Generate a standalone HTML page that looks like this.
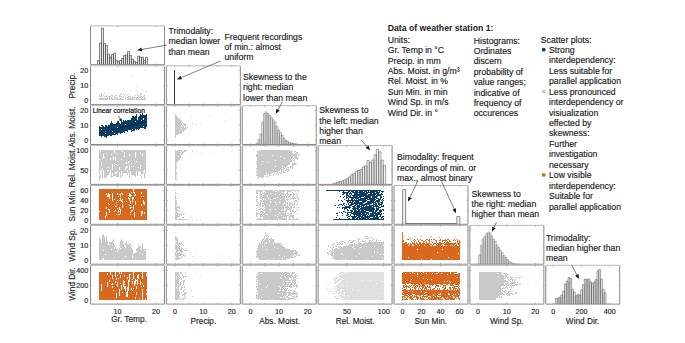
<!DOCTYPE html>
<html><head><meta charset="utf-8"><style>
html,body{margin:0;padding:0;background:#fff;width:685px;height:343px;overflow:hidden;font-family:"Liberation Sans",sans-serif}
</style></head><body>
<svg width="685" height="343" viewBox="0 0 685 343" style="position:absolute;left:0;top:0" font-family="Liberation Sans, sans-serif">
<rect width="685" height="343" fill="#fff"/>
<g>
<path d="M99 95h1v2h-1zM99 98h1v2h-1zM100 94h1v1h-1zM100 96h1v1h-1zM100 98h1v2h-1zM101 93h1v3h-1zM101 97h1v3h-1zM102 96h1v1h-1zM102 98h1v2h-1zM103 95h1v1h-1zM103 98h1v2h-1zM104 93h1v1h-1zM104 96h1v1h-1zM104 98h1v2h-1zM105 96h1v1h-1zM105 98h1v2h-1zM106 95h1v2h-1zM106 98h1v2h-1zM107 93h1v1h-1zM107 97h1v3h-1zM108 96h1v1h-1zM109 96h1v4h-1zM110 96h1v1h-1zM110 99h1v1h-1zM111 95h1v1h-1zM111 97h1v3h-1zM112 95h1v2h-1zM112 98h1v2h-1zM113 99h1v1h-1zM114 96h1v4h-1zM115 95h1v1h-1zM115 97h1v1h-1zM115 99h1v1h-1zM116 95h1v1h-1zM116 97h1v3h-1zM117 98h1v2h-1zM118 99h1v1h-1zM119 95h1v2h-1zM119 98h1v2h-1zM120 94h1v1h-1zM120 96h1v1h-1zM120 98h1v2h-1zM121 94h1v1h-1zM121 96h1v1h-1zM121 98h1v2h-1zM122 97h1v1h-1zM122 99h1v1h-1zM123 93h1v1h-1zM123 96h1v1h-1zM123 99h1v1h-1zM124 95h1v1h-1zM125 94h1v1h-1zM125 97h1v3h-1zM127 95h1v1h-1zM127 97h1v1h-1zM127 99h1v1h-1zM128 96h1v4h-1zM129 94h1v1h-1zM129 96h1v1h-1zM129 98h1v2h-1zM130 96h1v4h-1zM131 98h1v2h-1zM132 96h1v4h-1zM133 97h1v1h-1zM133 99h1v1h-1zM134 97h1v3h-1zM135 95h1v1h-1zM135 97h1v1h-1zM136 97h1v3h-1zM137 93h1v1h-1zM137 95h1v1h-1zM137 97h1v1h-1zM137 99h1v1h-1zM138 96h1v1h-1zM138 98h1v2h-1zM139 95h1v1h-1zM139 97h1v1h-1zM139 99h1v1h-1zM140 93h1v2h-1zM140 96h1v2h-1zM140 99h1v1h-1zM141 96h1v1h-1zM141 98h1v2h-1zM142 97h1v3h-1zM143 96h1v1h-1zM143 99h1v1h-1zM144 95h1v5h-1zM145 98h1v2h-1z" fill="#cbcbcb"/>
<path d="M144.95 69.95h0.9v0.9h-0.9zM132.75 75.35h0.9v0.9h-0.9zM135.75 86.35h0.9v0.9h-0.9zM135.75 90.55h0.9v0.9h-0.9zM122.85 88.55h0.9v0.9h-0.9zM144.95 91.05h0.9v0.9h-0.9zM141.15 93.85h0.9v0.9h-0.9z" fill="#bdbdbd"/>
<path d="M99 126h1v10h-1zM100 127h1v9h-1zM101 125h1v1h-1zM101 127h1v2h-1zM101 130h1v7h-1zM102 125h1v11h-1zM103 126h1v10h-1zM104 127h1v10h-1zM105 125h1v6h-1zM105 132h1v1h-1zM105 134h1v3h-1zM106 125h1v13h-1zM107 126h1v10h-1zM108 125h1v11h-1zM109 125h1v5h-1zM109 131h1v4h-1zM110 123h1v13h-1zM111 121h1v15h-1zM112 123h1v8h-1zM112 132h1v3h-1zM113 124h1v11h-1zM114 124h1v9h-1zM114 134h1v1h-1zM115 124h1v11h-1zM116 123h1v11h-1zM117 121h1v6h-1zM117 128h1v7h-1zM118 121h1v12h-1zM119 123h1v10h-1zM120 124h1v10h-1zM121 122h1v11h-1zM122 122h1v11h-1zM123 120h1v12h-1zM124 121h1v12h-1zM125 120h1v4h-1zM125 125h1v6h-1zM126 121h1v10h-1zM127 120h1v12h-1zM128 120h1v10h-1zM129 120h1v10h-1zM130 120h1v10h-1zM131 118h1v14h-1zM132 116h1v13h-1zM132 130h1v1h-1zM133 116h1v15h-1zM134 117h1v14h-1zM135 116h1v5h-1zM135 122h1v7h-1zM136 114h1v16h-1zM137 120h1v9h-1zM138 117h1v13h-1zM139 116h1v13h-1zM140 114h1v14h-1zM141 115h1v5h-1zM141 121h1v7h-1zM142 113h1v15h-1zM143 115h1v3h-1zM143 120h1v6h-1zM143 127h1v1h-1zM144 115h1v14h-1zM145 115h1v14h-1zM146 114h1v13h-1z" fill="#0c3d66"/>
<path d="M175 114h1v1h-1zM175 115h2v1h-2zM175 116h2v1h-2zM175 117h3v1h-3zM175 118h4v1h-4zM175 119h5v1h-5zM175 120h6v1h-6zM175 121h7v1h-7zM175 122h6v1h-6zM182 122h1v1h-1zM175 123h7v1h-7zM183 123h2v1h-2zM175 124h7v1h-7zM183 124h3v1h-3zM175 125h6v1h-6zM182 125h1v1h-1zM184 125h2v1h-2zM175 126h6v1h-6zM182 126h2v1h-2zM185 126h1v1h-1zM175 127h9v1h-9zM185 127h1v1h-1zM187 127h1v1h-1zM175 128h6v1h-6zM182 128h5v1h-5zM175 129h10v1h-10zM175 130h10v1h-10zM175 131h7v1h-7zM183 131h1v1h-1zM175 132h7v1h-7zM175 133h6v1h-6zM175 134h3v1h-3zM175 135h1v1h-1zM175 136h1v1h-1zM175 137h1v1h-1z" fill="#c9c9c9"/>
<path d="M190.55 116.55h0.9v0.9h-0.9zM191.95 123.05h0.9v0.9h-0.9zM195.85 123.85h0.9v0.9h-0.9zM199.65 123.25h0.9v0.9h-0.9zM180.25 117.75h0.9v0.9h-0.9zM209.55 115.55h0.9v0.9h-0.9zM224.55 120.55h0.9v0.9h-0.9zM231.55 117.55h0.9v0.9h-0.9z" fill="#c4c4c4"/>
<path d="M99 150h1v9h-1zM99 160h1v15h-1zM99 176h1v2h-1zM100 152h1v19h-1zM100 173h1v1h-1zM100 175h1v3h-1zM101 150h1v12h-1zM101 166h1v3h-1zM102 150h1v8h-1zM102 159h1v9h-1zM102 169h1v10h-1zM103 150h1v4h-1zM103 158h1v12h-1zM104 150h1v7h-1zM104 158h1v20h-1zM105 150h1v28h-1zM106 150h1v3h-1zM106 154h1v23h-1zM107 150h1v20h-1zM107 172h1v3h-1zM108 150h1v17h-1zM108 168h1v2h-1zM108 171h1v4h-1zM109 150h1v23h-1zM110 150h1v8h-1zM110 160h1v10h-1zM111 150h1v4h-1zM111 155h1v23h-1zM112 150h1v14h-1zM112 170h1v3h-1zM112 176h1v1h-1zM113 150h1v7h-1zM113 160h1v16h-1zM114 153h1v10h-1zM114 164h1v1h-1zM114 166h1v10h-1zM115 150h1v7h-1zM115 161h1v11h-1zM115 174h1v2h-1zM116 150h1v3h-1zM116 154h1v10h-1zM116 165h1v7h-1zM116 174h1v3h-1zM117 150h1v11h-1zM117 162h1v3h-1zM117 166h1v5h-1zM117 172h1v5h-1zM118 150h1v27h-1zM119 150h1v17h-1zM119 170h1v2h-1zM120 150h1v28h-1zM121 151h1v8h-1zM121 160h1v11h-1zM122 150h1v1h-1zM122 152h1v25h-1zM123 150h1v23h-1zM124 150h1v2h-1zM124 154h1v1h-1zM124 157h1v16h-1zM125 150h1v17h-1zM125 170h1v3h-1zM126 150h1v12h-1zM126 164h1v2h-1zM126 169h1v4h-1zM127 150h1v16h-1zM127 168h1v2h-1zM127 172h1v3h-1zM128 150h1v11h-1zM128 163h1v10h-1zM129 150h1v4h-1zM129 156h1v5h-1zM129 162h1v3h-1zM129 170h1v3h-1zM129 174h1v4h-1zM130 150h1v21h-1zM131 150h1v13h-1zM131 164h1v2h-1zM131 167h1v8h-1zM131 177h1v1h-1zM132 150h1v26h-1zM133 150h1v16h-1zM133 167h1v8h-1zM134 150h1v26h-1zM135 150h1v2h-1zM135 158h1v19h-1zM136 150h1v11h-1zM136 162h1v9h-1zM137 150h1v26h-1zM138 150h1v17h-1zM138 168h1v4h-1zM139 150h1v21h-1zM140 150h1v2h-1zM140 154h1v11h-1zM140 169h1v3h-1zM140 175h1v1h-1zM141 150h1v25h-1zM141 176h1v2h-1zM142 150h1v4h-1zM142 156h1v18h-1zM143 150h1v21h-1zM143 172h1v1h-1zM144 150h1v20h-1zM144 173h1v5h-1zM145 150h1v13h-1zM145 164h1v10h-1zM145 177h1v1h-1z" fill="#c9c9c9"/>
<path d="M99.4 176V180.4" stroke="#c9c9c9" stroke-width="0.9"/>
<path d="M175 150h1v1h-1zM177 150h6v1h-6zM184 150h3v1h-3zM175 151h5v1h-5zM181 151h1v1h-1zM183 151h3v1h-3zM175 152h6v1h-6zM182 152h2v1h-2zM175 153h5v1h-5zM181 153h2v1h-2zM175 154h7v1h-7zM175 155h6v1h-6zM175 156h3v1h-3zM179 156h2v1h-2zM175 157h6v1h-6zM175 158h5v1h-5zM175 159h5v1h-5zM175 160h4v1h-4zM175 161h3v1h-3zM175 162h2v1h-2zM175 163h1v1h-1zM175 164h2v1h-2zM175 165h1v1h-1zM175 166h2v1h-2zM175 167h2v1h-2zM175 168h2v1h-2zM175 169h1v1h-1zM175 170h1v1h-1zM175 171h1v1h-1zM175 172h2v1h-2zM175 173h2v1h-2zM175 174h1v1h-1zM175 175h2v1h-2zM175 176h1v1h-1zM175 177h2v1h-2zM175 178h1v1h-1zM175 179h2v1h-2z" fill="#c9c9c9"/>
<path d="M191.95 151.05h0.9v0.9h-0.9zM195.85 151.65h0.9v0.9h-0.9zM199.65 152.75h0.9v0.9h-0.9zM190.25 157.15h0.9v0.9h-0.9zM214.55 151.55h0.9v0.9h-0.9zM231.55 150.55h0.9v0.9h-0.9z" fill="#c8c8c8"/>
<path d="M259 150h1v1h-1zM261 150h29v1h-29zM257 151h36v1h-36zM294 151h2v1h-2zM257 152h35v1h-35zM294 152h1v1h-1zM296 152h2v1h-2zM258 153h35v1h-35zM295 153h3v1h-3zM256 154h41v1h-41zM298 154h2v1h-2zM256 155h5v1h-5zM262 155h10v1h-10zM273 155h24v1h-24zM298 155h1v1h-1zM256 156h24v1h-24zM281 156h12v1h-12zM294 156h3v1h-3zM257 157h33v1h-33zM291 157h2v1h-2zM294 157h4v1h-4zM257 158h27v1h-27zM285 158h7v1h-7zM293 158h1v1h-1zM295 158h3v1h-3zM257 159h34v1h-34zM292 159h1v1h-1zM294 159h1v1h-1zM297 159h1v1h-1zM257 160h18v1h-18zM276 160h16v1h-16zM293 160h2v1h-2zM256 161h6v1h-6zM263 161h30v1h-30zM257 162h11v1h-11zM269 162h21v1h-21zM294 162h1v1h-1zM256 163h34v1h-34zM292 163h5v1h-5zM257 164h4v1h-4zM262 164h28v1h-28zM292 164h4v1h-4zM257 165h31v1h-31zM292 165h2v1h-2zM257 166h18v1h-18zM276 166h6v1h-6zM283 166h4v1h-4zM290 166h3v1h-3zM257 167h27v1h-27zM285 167h1v1h-1zM287 167h2v1h-2zM290 167h1v1h-1zM292 167h1v1h-1zM256 168h26v1h-26zM283 168h2v1h-2zM286 168h1v1h-1zM288 168h1v1h-1zM290 168h1v1h-1zM292 168h1v1h-1zM257 169h16v1h-16zM274 169h9v1h-9zM286 169h3v1h-3zM256 170h24v1h-24zM281 170h1v1h-1zM283 170h1v1h-1zM285 170h2v1h-2zM288 170h2v1h-2zM257 171h21v1h-21zM281 171h1v1h-1zM283 171h1v1h-1zM287 171h1v1h-1zM256 172h18v1h-18zM277 172h1v1h-1zM279 172h1v1h-1zM281 172h1v1h-1zM283 172h3v1h-3zM256 173h1v1h-1zM258 173h8v1h-8zM267 173h4v1h-4zM274 173h1v1h-1zM278 173h1v1h-1zM280 173h2v1h-2zM257 174h11v1h-11zM269 174h1v1h-1zM273 174h1v1h-1zM276 174h1v1h-1zM278 174h1v1h-1zM256 175h8v1h-8zM269 175h2v1h-2zM273 175h1v1h-1zM258 176h6v1h-6zM265 176h1v1h-1zM267 176h2v1h-2zM257 177h2v1h-2zM261 177h3v1h-3zM258 178h1v1h-1z" fill="#c9c9c9"/>
<path d="M99 189h1v22h-1zM99 212h1v8h-1zM100 189h1v31h-1zM101 189h1v31h-1zM102 189h1v31h-1zM103 189h1v31h-1zM104 189h1v31h-1zM105 189h1v27h-1zM105 218h1v2h-1zM106 189h1v4h-1zM106 195h1v12h-1zM106 209h1v3h-1zM106 216h1v4h-1zM107 189h1v6h-1zM107 197h1v23h-1zM108 189h1v4h-1zM108 197h1v6h-1zM108 204h1v5h-1zM108 210h1v10h-1zM109 189h1v5h-1zM109 199h1v5h-1zM109 205h1v4h-1zM109 213h1v7h-1zM110 189h1v31h-1zM111 189h1v31h-1zM112 189h1v4h-1zM112 201h1v19h-1zM113 189h1v31h-1zM114 189h1v10h-1zM114 200h1v11h-1zM114 212h1v8h-1zM115 189h1v17h-1zM115 207h1v3h-1zM115 211h1v9h-1zM116 189h1v13h-1zM116 203h1v1h-1zM116 205h1v1h-1zM116 207h1v7h-1zM116 215h1v5h-1zM117 189h1v4h-1zM117 195h1v5h-1zM117 201h1v7h-1zM117 209h1v11h-1zM118 189h1v7h-1zM118 197h1v13h-1zM118 213h1v1h-1zM118 215h1v5h-1zM119 189h1v5h-1zM119 195h1v5h-1zM119 201h1v6h-1zM119 210h1v4h-1zM119 215h1v5h-1zM120 189h1v5h-1zM120 197h1v1h-1zM120 201h1v8h-1zM120 214h1v6h-1zM121 189h1v4h-1zM121 194h1v6h-1zM121 202h1v18h-1zM122 189h1v4h-1zM122 195h1v4h-1zM122 200h1v1h-1zM122 203h1v1h-1zM122 208h1v12h-1zM123 189h1v31h-1zM124 189h1v31h-1zM125 189h1v31h-1zM126 189h1v12h-1zM126 202h1v18h-1zM127 189h1v31h-1zM128 189h1v8h-1zM128 199h1v21h-1zM129 189h1v4h-1zM129 197h1v1h-1zM129 201h1v4h-1zM129 206h1v14h-1zM130 189h1v5h-1zM130 197h1v4h-1zM130 204h1v1h-1zM130 206h1v1h-1zM130 209h1v3h-1zM130 213h1v1h-1zM130 215h1v5h-1zM131 189h1v3h-1zM131 193h1v2h-1zM131 196h1v11h-1zM131 208h1v2h-1zM131 212h1v8h-1zM132 189h1v8h-1zM132 202h1v8h-1zM132 211h1v9h-1zM133 193h1v4h-1zM133 199h1v6h-1zM133 210h1v10h-1zM134 189h1v3h-1zM134 194h1v1h-1zM134 196h1v16h-1zM134 217h1v3h-1zM135 189h1v5h-1zM135 196h1v5h-1zM135 205h1v15h-1zM136 189h1v31h-1zM137 189h1v31h-1zM138 189h1v31h-1zM139 189h1v31h-1zM140 189h1v31h-1zM141 189h1v3h-1zM141 194h1v2h-1zM141 197h1v7h-1zM141 206h1v5h-1zM141 216h1v4h-1zM142 189h1v22h-1zM142 214h1v6h-1zM143 189h1v7h-1zM143 197h1v3h-1zM143 204h1v16h-1zM144 189h1v13h-1zM144 205h1v7h-1zM144 214h1v6h-1zM145 189h1v31h-1zM146 189h1v31h-1z" fill="#d8691f"/>
<path d="M175 190h1v1h-1zM175 192h1v1h-1zM175 193h2v1h-2zM175 195h1v1h-1zM175 196h1v1h-1zM175 197h1v1h-1zM175 198h2v1h-2zM175 199h1v1h-1zM175 200h2v1h-2zM175 201h2v1h-2zM175 202h2v1h-2zM175 203h2v1h-2zM175 204h2v1h-2zM175 205h1v1h-1zM177 205h1v1h-1zM175 206h2v1h-2zM178 206h2v1h-2zM175 207h5v1h-5zM175 208h2v1h-2zM179 208h1v1h-1zM175 209h3v1h-3zM175 210h3v1h-3zM179 210h1v1h-1zM176 211h2v1h-2zM179 211h1v1h-1zM175 212h2v1h-2zM175 213h3v1h-3zM179 213h1v1h-1zM181 213h1v1h-1zM175 214h1v1h-1zM177 214h3v1h-3zM181 214h1v1h-1zM183 214h1v1h-1zM175 215h3v1h-3zM179 215h1v1h-1zM181 215h1v1h-1zM175 216h5v1h-5zM175 217h3v1h-3zM182 217h2v1h-2zM175 218h2v1h-2zM179 218h1v1h-1zM175 219h13v1h-13z" fill="#c9c9c9"/>
<path d="M179.75 202.75h0.9v0.9h-0.9zM181.95 211.55h0.9v0.9h-0.9zM190.25 216.55h0.9v0.9h-0.9zM191.95 219.35h0.9v0.9h-0.9zM195.85 219.35h0.9v0.9h-0.9zM199.65 219.35h0.9v0.9h-0.9zM184.55 213.55h0.9v0.9h-0.9zM177.55 195.55h0.9v0.9h-0.9z" fill="#c8c8c8"/>
<path d="M256 190h6v1h-6zM263 190h10v1h-10zM274 190h4v1h-4zM279 190h20v1h-20zM256 191h1v1h-1zM258 191h5v1h-5zM265 191h10v1h-10zM277 191h8v1h-8zM287 191h4v1h-4zM295 191h1v1h-1zM298 191h1v1h-1zM256 192h2v1h-2zM260 192h1v1h-1zM262 192h1v1h-1zM264 192h1v1h-1zM266 192h16v1h-16zM283 192h1v1h-1zM287 192h1v1h-1zM292 192h1v1h-1zM256 193h2v1h-2zM260 193h1v1h-1zM262 193h8v1h-8zM271 193h13v1h-13zM286 193h2v1h-2zM293 193h2v1h-2zM296 193h1v1h-1zM259 194h3v1h-3zM264 194h11v1h-11zM276 194h3v1h-3zM280 194h6v1h-6zM287 194h2v1h-2zM290 194h2v1h-2zM293 194h2v1h-2zM297 194h1v1h-1zM257 195h1v1h-1zM260 195h2v1h-2zM263 195h4v1h-4zM268 195h14v1h-14zM283 195h1v1h-1zM285 195h1v1h-1zM287 195h1v1h-1zM289 195h2v1h-2zM293 195h1v1h-1zM297 195h1v1h-1zM256 196h1v1h-1zM260 196h2v1h-2zM263 196h4v1h-4zM268 196h12v1h-12zM281 196h4v1h-4zM286 196h1v1h-1zM288 196h2v1h-2zM292 196h2v1h-2zM296 196h1v1h-1zM256 197h2v1h-2zM259 197h2v1h-2zM262 197h15v1h-15zM278 197h7v1h-7zM286 197h1v1h-1zM288 197h1v1h-1zM290 197h1v1h-1zM292 197h1v1h-1zM294 197h1v1h-1zM297 197h1v1h-1zM260 198h3v1h-3zM264 198h4v1h-4zM269 198h5v1h-5zM276 198h9v1h-9zM287 198h1v1h-1zM289 198h1v1h-1zM291 198h5v1h-5zM297 198h2v1h-2zM256 199h2v1h-2zM262 199h1v1h-1zM264 199h1v1h-1zM266 199h4v1h-4zM271 199h9v1h-9zM281 199h4v1h-4zM286 199h3v1h-3zM290 199h1v1h-1zM293 199h1v1h-1zM298 199h1v1h-1zM256 200h1v1h-1zM260 200h2v1h-2zM263 200h23v1h-23zM287 200h1v1h-1zM295 200h2v1h-2zM256 201h2v1h-2zM260 201h10v1h-10zM271 201h15v1h-15zM288 201h1v1h-1zM291 201h1v1h-1zM294 201h3v1h-3zM298 201h1v1h-1zM257 202h2v1h-2zM260 202h1v1h-1zM263 202h7v1h-7zM271 202h4v1h-4zM276 202h3v1h-3zM280 202h4v1h-4zM285 202h3v1h-3zM289 202h1v1h-1zM294 202h1v1h-1zM297 202h1v1h-1zM258 203h1v1h-1zM260 203h1v1h-1zM262 203h22v1h-22zM285 203h1v1h-1zM287 203h1v1h-1zM289 203h3v1h-3zM294 203h1v1h-1zM257 204h1v1h-1zM259 204h2v1h-2zM262 204h1v1h-1zM264 204h12v1h-12zM277 204h6v1h-6zM284 204h2v1h-2zM287 204h1v1h-1zM289 204h2v1h-2zM292 204h3v1h-3zM296 204h2v1h-2zM256 205h3v1h-3zM260 205h1v1h-1zM262 205h7v1h-7zM270 205h16v1h-16zM287 205h1v1h-1zM289 205h3v1h-3zM260 206h1v1h-1zM262 206h2v1h-2zM265 206h19v1h-19zM285 206h3v1h-3zM291 206h1v1h-1zM294 206h1v1h-1zM258 207h1v1h-1zM264 207h20v1h-20zM285 207h7v1h-7zM293 207h2v1h-2zM296 207h1v1h-1zM298 207h1v1h-1zM256 208h1v1h-1zM260 208h2v1h-2zM263 208h1v1h-1zM265 208h19v1h-19zM286 208h2v1h-2zM289 208h3v1h-3zM258 209h3v1h-3zM262 209h1v1h-1zM264 209h5v1h-5zM271 209h4v1h-4zM276 209h6v1h-6zM283 209h1v1h-1zM286 209h5v1h-5zM293 209h1v1h-1zM296 209h1v1h-1zM298 209h1v1h-1zM256 210h2v1h-2zM263 210h18v1h-18zM282 210h2v1h-2zM285 210h2v1h-2zM290 210h1v1h-1zM292 210h2v1h-2zM260 211h3v1h-3zM265 211h5v1h-5zM271 211h16v1h-16zM290 211h1v1h-1zM292 211h2v1h-2zM295 211h1v1h-1zM256 212h2v1h-2zM260 212h1v1h-1zM262 212h2v1h-2zM265 212h14v1h-14zM280 212h4v1h-4zM285 212h1v1h-1zM291 212h1v1h-1zM294 212h1v1h-1zM256 213h2v1h-2zM259 213h1v1h-1zM262 213h1v1h-1zM264 213h22v1h-22zM287 213h5v1h-5zM297 213h1v1h-1zM256 214h2v1h-2zM259 214h3v1h-3zM263 214h3v1h-3zM268 214h10v1h-10zM279 214h7v1h-7zM289 214h1v1h-1zM291 214h1v1h-1zM256 215h1v1h-1zM260 215h1v1h-1zM262 215h1v1h-1zM264 215h11v1h-11zM276 215h5v1h-5zM282 215h7v1h-7zM290 215h4v1h-4zM256 216h1v1h-1zM260 216h17v1h-17zM278 216h9v1h-9zM289 216h5v1h-5zM260 217h1v1h-1zM263 217h20v1h-20zM284 217h1v1h-1zM286 217h1v1h-1zM288 217h1v1h-1zM290 217h1v1h-1zM292 217h2v1h-2zM298 217h1v1h-1zM257 218h1v1h-1zM259 218h2v1h-2zM263 218h24v1h-24zM289 218h1v1h-1zM293 218h1v1h-1zM296 218h1v1h-1zM256 219h22v1h-22zM279 219h8v1h-8zM288 219h11v1h-11z" fill="#c9c9c9"/>
<path d="M326 190h55v1h-55zM339 191h1v1h-1zM343 191h1v1h-1zM348 191h2v1h-2zM351 191h3v1h-3zM355 191h3v1h-3zM359 191h4v1h-4zM364 191h3v1h-3zM368 191h1v1h-1zM370 191h8v1h-8zM379 191h1v1h-1zM381 191h3v1h-3zM342 192h7v1h-7zM350 192h1v1h-1zM352 192h13v1h-13zM366 192h9v1h-9zM376 192h4v1h-4zM382 192h1v1h-1zM343 193h2v1h-2zM346 193h2v1h-2zM349 193h3v1h-3zM354 193h4v1h-4zM359 193h9v1h-9zM370 193h2v1h-2zM373 193h6v1h-6zM381 193h1v1h-1zM342 194h2v1h-2zM346 194h2v1h-2zM349 194h1v1h-1zM351 194h1v1h-1zM354 194h13v1h-13zM368 194h8v1h-8zM377 194h6v1h-6zM346 195h3v1h-3zM350 195h1v1h-1zM352 195h23v1h-23zM376 195h5v1h-5zM340 196h1v1h-1zM344 196h1v1h-1zM346 196h1v1h-1zM348 196h3v1h-3zM353 196h5v1h-5zM359 196h5v1h-5zM365 196h6v1h-6zM372 196h6v1h-6zM380 196h2v1h-2zM383 196h1v1h-1zM343 197h1v1h-1zM346 197h2v1h-2zM349 197h12v1h-12zM364 197h7v1h-7zM372 197h5v1h-5zM380 197h2v1h-2zM346 198h1v1h-1zM348 198h1v1h-1zM351 198h3v1h-3zM355 198h4v1h-4zM360 198h8v1h-8zM369 198h6v1h-6zM376 198h3v1h-3zM380 198h1v1h-1zM383 198h1v1h-1zM344 199h1v1h-1zM348 199h1v1h-1zM351 199h2v1h-2zM354 199h1v1h-1zM356 199h1v1h-1zM358 199h8v1h-8zM367 199h9v1h-9zM378 199h3v1h-3zM382 199h1v1h-1zM338 200h1v1h-1zM341 200h1v1h-1zM346 200h21v1h-21zM370 200h5v1h-5zM376 200h4v1h-4zM381 200h1v1h-1zM383 200h1v1h-1zM342 201h1v1h-1zM347 201h2v1h-2zM350 201h1v1h-1zM352 201h2v1h-2zM355 201h4v1h-4zM362 201h4v1h-4zM367 201h7v1h-7zM375 201h5v1h-5zM382 201h1v1h-1zM347 202h1v1h-1zM349 202h4v1h-4zM354 202h11v1h-11zM367 202h9v1h-9zM377 202h2v1h-2zM380 202h3v1h-3zM343 203h2v1h-2zM348 203h1v1h-1zM351 203h12v1h-12zM365 203h7v1h-7zM373 203h1v1h-1zM375 203h2v1h-2zM378 203h2v1h-2zM381 203h2v1h-2zM339 204h3v1h-3zM343 204h1v1h-1zM346 204h1v1h-1zM348 204h1v1h-1zM350 204h4v1h-4zM355 204h3v1h-3zM359 204h11v1h-11zM373 204h4v1h-4zM378 204h4v1h-4zM335 205h1v1h-1zM338 205h1v1h-1zM342 205h1v1h-1zM344 205h1v1h-1zM349 205h3v1h-3zM354 205h2v1h-2zM357 205h3v1h-3zM361 205h4v1h-4zM366 205h1v1h-1zM369 205h5v1h-5zM375 205h3v1h-3zM379 205h1v1h-1zM381 205h1v1h-1zM383 205h1v1h-1zM345 206h5v1h-5zM352 206h3v1h-3zM356 206h6v1h-6zM363 206h1v1h-1zM365 206h7v1h-7zM373 206h6v1h-6zM381 206h3v1h-3zM337 207h1v1h-1zM339 207h1v1h-1zM342 207h9v1h-9zM353 207h3v1h-3zM357 207h3v1h-3zM361 207h13v1h-13zM376 207h1v1h-1zM378 207h3v1h-3zM342 208h1v1h-1zM344 208h3v1h-3zM349 208h1v1h-1zM352 208h7v1h-7zM360 208h15v1h-15zM376 208h3v1h-3zM344 209h1v1h-1zM347 209h1v1h-1zM353 209h3v1h-3zM357 209h18v1h-18zM376 209h3v1h-3zM380 209h1v1h-1zM382 209h2v1h-2zM347 210h2v1h-2zM350 210h3v1h-3zM354 210h3v1h-3zM358 210h2v1h-2zM361 210h3v1h-3zM365 210h9v1h-9zM375 210h3v1h-3zM379 210h3v1h-3zM383 210h1v1h-1zM343 211h2v1h-2zM351 211h2v1h-2zM354 211h12v1h-12zM369 211h5v1h-5zM375 211h2v1h-2zM379 211h3v1h-3zM339 212h1v1h-1zM341 212h1v1h-1zM345 212h1v1h-1zM347 212h5v1h-5zM353 212h16v1h-16zM372 212h4v1h-4zM377 212h4v1h-4zM336 213h2v1h-2zM342 213h1v1h-1zM347 213h1v1h-1zM351 213h10v1h-10zM362 213h3v1h-3zM366 213h3v1h-3zM370 213h10v1h-10zM381 213h1v1h-1zM383 213h1v1h-1zM347 214h2v1h-2zM350 214h1v1h-1zM353 214h14v1h-14zM368 214h1v1h-1zM370 214h4v1h-4zM375 214h7v1h-7zM337 215h1v1h-1zM342 215h1v1h-1zM346 215h2v1h-2zM350 215h1v1h-1zM354 215h1v1h-1zM356 215h5v1h-5zM362 215h4v1h-4zM367 215h1v1h-1zM369 215h9v1h-9zM380 215h1v1h-1zM348 216h2v1h-2zM351 216h6v1h-6zM358 216h5v1h-5zM364 216h11v1h-11zM376 216h2v1h-2zM379 216h2v1h-2zM382 216h2v1h-2zM336 217h1v1h-1zM347 217h1v1h-1zM352 217h4v1h-4zM357 217h3v1h-3zM361 217h9v1h-9zM373 217h6v1h-6zM381 217h2v1h-2zM339 218h1v1h-1zM348 218h2v1h-2zM352 218h3v1h-3zM356 218h2v1h-2zM359 218h7v1h-7zM367 218h2v1h-2zM370 218h9v1h-9zM381 218h1v1h-1zM383 218h1v1h-1zM333 219h51v1h-51z" fill="#0c3d66"/>
<path d="M99 237h1v23h-1zM100 239h1v21h-1zM101 243h1v17h-1zM102 235h1v25h-1zM103 234h1v16h-1zM103 251h1v7h-1zM104 237h1v23h-1zM105 242h1v12h-1zM105 255h1v5h-1zM106 236h1v24h-1zM107 241h1v18h-1zM108 245h1v15h-1zM109 242h1v2h-1zM109 245h1v15h-1zM110 242h1v18h-1zM111 242h1v7h-1zM111 250h1v10h-1zM112 241h1v19h-1zM113 239h1v3h-1zM113 243h1v17h-1zM114 245h1v2h-1zM114 249h1v11h-1zM115 247h1v13h-1zM116 249h1v11h-1zM117 249h1v2h-1zM117 252h1v8h-1zM118 250h1v10h-1zM119 245h1v1h-1zM119 248h1v12h-1zM120 241h1v7h-1zM120 249h1v11h-1zM121 239h1v21h-1zM122 241h1v19h-1zM123 242h1v1h-1zM123 244h1v16h-1zM124 244h1v1h-1zM124 247h1v13h-1zM125 243h1v2h-1zM125 248h1v8h-1zM125 257h1v3h-1zM126 241h1v19h-1zM127 244h1v16h-1zM128 242h1v1h-1zM128 244h1v16h-1zM129 244h1v16h-1zM130 243h1v2h-1zM130 246h1v14h-1zM131 245h1v1h-1zM131 248h1v12h-1zM132 249h1v6h-1zM132 258h1v2h-1zM133 254h1v6h-1zM134 253h1v7h-1zM135 253h1v7h-1zM136 249h1v2h-1zM136 252h1v8h-1zM137 248h1v12h-1zM138 244h1v1h-1zM138 246h1v14h-1zM139 245h1v8h-1zM139 254h1v6h-1zM140 247h1v1h-1zM140 249h1v11h-1zM141 248h1v1h-1zM141 250h1v10h-1zM142 243h1v11h-1zM142 255h1v5h-1zM143 249h1v11h-1zM144 249h1v1h-1zM144 251h1v9h-1zM145 249h1v11h-1z" fill="#c9c9c9"/>
<path d="M175 236h1v1h-1zM175 237h2v1h-2zM175 238h3v1h-3zM175 239h3v1h-3zM175 240h3v1h-3zM177 241h1v1h-1zM175 242h3v1h-3zM179 242h1v1h-1zM176 243h2v1h-2zM179 243h3v1h-3zM175 244h1v1h-1zM177 244h4v1h-4zM182 244h1v1h-1zM175 245h2v1h-2zM178 245h1v1h-1zM183 245h1v1h-1zM175 246h3v1h-3zM179 246h1v1h-1zM175 247h5v1h-5zM175 248h5v1h-5zM181 248h2v1h-2zM185 248h1v1h-1zM175 249h3v1h-3zM179 249h3v1h-3zM183 249h1v1h-1zM176 250h6v1h-6zM184 250h3v1h-3zM176 251h2v1h-2zM180 251h3v1h-3zM175 252h3v1h-3zM179 252h1v1h-1zM181 252h1v1h-1zM175 253h1v1h-1zM177 253h3v1h-3zM181 253h1v1h-1zM175 254h4v1h-4zM180 254h2v1h-2zM183 254h2v1h-2zM175 255h6v1h-6zM183 255h1v1h-1zM185 255h1v1h-1zM175 256h4v1h-4zM181 256h1v1h-1zM184 256h1v1h-1zM176 257h3v1h-3zM181 257h2v1h-2zM175 258h6v1h-6zM175 259h4v1h-4z" fill="#c9c9c9"/>
<path d="M174.75 231.95h0.9v0.9h-0.9zM190.85 252.15h0.9v0.9h-0.9zM195.85 254.15h0.9v0.9h-0.9zM192.45 256.05h0.9v0.9h-0.9zM199.65 256.05h0.9v0.9h-0.9zM229.55 256.55h0.9v0.9h-0.9zM217.55 253.55h0.9v0.9h-0.9z" fill="#c8c8c8"/>
<path d="M265 235h3v1h-3zM264 236h1v1h-1zM266 236h1v1h-1zM268 236h1v1h-1zM264 237h1v1h-1zM266 237h1v1h-1zM263 238h2v1h-2zM266 238h3v1h-3zM270 238h2v1h-2zM262 239h2v1h-2zM265 239h3v1h-3zM269 239h5v1h-5zM262 240h1v1h-1zM264 240h5v1h-5zM270 240h4v1h-4zM261 241h8v1h-8zM270 241h4v1h-4zM261 242h1v1h-1zM263 242h3v1h-3zM267 242h8v1h-8zM259 243h1v1h-1zM261 243h4v1h-4zM267 243h6v1h-6zM274 243h7v1h-7zM259 244h21v1h-21zM281 244h1v1h-1zM258 245h6v1h-6zM265 245h18v1h-18zM258 246h4v1h-4zM263 246h20v1h-20zM258 247h16v1h-16zM275 247h10v1h-10zM257 248h20v1h-20zM278 248h8v1h-8zM287 248h1v1h-1zM258 249h8v1h-8zM267 249h23v1h-23zM257 250h39v1h-39zM256 251h38v1h-38zM295 251h2v1h-2zM256 252h37v1h-37zM294 252h4v1h-4zM257 253h41v1h-41zM256 254h38v1h-38zM295 254h2v1h-2zM298 254h1v1h-1zM257 255h22v1h-22zM280 255h13v1h-13zM294 255h1v1h-1zM296 255h1v1h-1zM298 255h2v1h-2zM256 256h28v1h-28zM285 256h8v1h-8zM294 256h2v1h-2zM256 257h1v1h-1zM258 257h37v1h-37zM258 258h15v1h-15zM274 258h8v1h-8zM283 258h7v1h-7zM259 259h8v1h-8zM268 259h18v1h-18z" fill="#c9c9c9"/>
<path d="M265.05 232.25h0.9v0.9h-0.9z" fill="#c8c8c8"/>
<path d="M365 236h1v1h-1zM367 236h1v1h-1zM369 237h1v1h-1zM371 237h2v1h-2zM357 238h2v1h-2zM365 238h4v1h-4zM370 238h1v1h-1zM358 239h2v1h-2zM362 239h1v1h-1zM373 239h2v1h-2zM376 239h1v1h-1zM349 240h2v1h-2zM353 240h3v1h-3zM358 240h1v1h-1zM362 240h1v1h-1zM365 240h1v1h-1zM369 240h2v1h-2zM372 240h1v1h-1zM376 240h1v1h-1zM378 240h1v1h-1zM380 240h1v1h-1zM341 241h3v1h-3zM348 241h1v1h-1zM352 241h2v1h-2zM358 241h1v1h-1zM360 241h1v1h-1zM362 241h3v1h-3zM369 241h1v1h-1zM371 241h1v1h-1zM375 241h2v1h-2zM383 241h1v1h-1zM337 242h1v1h-1zM339 242h1v1h-1zM341 242h1v1h-1zM344 242h2v1h-2zM348 242h1v1h-1zM350 242h3v1h-3zM356 242h1v1h-1zM359 242h1v1h-1zM365 242h1v1h-1zM368 242h16v1h-16zM334 243h1v1h-1zM340 243h1v1h-1zM342 243h1v1h-1zM347 243h1v1h-1zM354 243h1v1h-1zM358 243h4v1h-4zM363 243h21v1h-21zM332 244h2v1h-2zM337 244h3v1h-3zM341 244h2v1h-2zM345 244h1v1h-1zM349 244h35v1h-35zM328 245h1v1h-1zM332 245h1v1h-1zM336 245h1v1h-1zM346 245h1v1h-1zM348 245h35v1h-35zM328 246h1v1h-1zM333 246h1v1h-1zM335 246h2v1h-2zM338 246h1v1h-1zM340 246h1v1h-1zM343 246h10v1h-10zM354 246h20v1h-20zM375 246h9v1h-9zM330 247h1v1h-1zM332 247h2v1h-2zM338 247h14v1h-14zM353 247h7v1h-7zM361 247h23v1h-23zM332 248h1v1h-1zM335 248h3v1h-3zM339 248h15v1h-15zM355 248h29v1h-29zM327 249h1v1h-1zM332 249h1v1h-1zM334 249h50v1h-50zM330 250h1v1h-1zM332 250h52v1h-52zM329 251h1v1h-1zM331 251h2v1h-2zM334 251h40v1h-40zM375 251h9v1h-9zM327 252h1v1h-1zM331 252h43v1h-43zM375 252h2v1h-2zM378 252h6v1h-6zM327 253h2v1h-2zM330 253h3v1h-3zM334 253h7v1h-7zM342 253h17v1h-17zM360 253h24v1h-24zM328 254h1v1h-1zM330 254h3v1h-3zM334 254h8v1h-8zM343 254h37v1h-37zM381 254h2v1h-2zM331 255h53v1h-53zM333 256h23v1h-23zM357 256h15v1h-15zM373 256h11v1h-11zM331 257h2v1h-2zM334 257h48v1h-48zM383 257h1v1h-1zM333 258h51v1h-51zM335 259h7v1h-7zM343 259h2v1h-2zM346 259h21v1h-21zM368 259h16v1h-16z" fill="#c9c9c9"/>
<path d="M407 239h2v1h-2zM414 239h1v1h-1zM417 239h1v1h-1zM420 239h1v1h-1zM426 239h2v1h-2zM429 239h1v1h-1zM431 239h1v1h-1zM433 239h2v1h-2zM440 239h1v1h-1zM445 239h1v1h-1zM447 239h2v1h-2zM454 239h1v1h-1zM403 240h1v1h-1zM413 240h1v1h-1zM415 240h1v1h-1zM418 240h1v1h-1zM421 240h2v1h-2zM425 240h1v1h-1zM428 240h2v1h-2zM435 240h2v1h-2zM439 240h2v1h-2zM442 240h5v1h-5zM449 240h1v1h-1zM453 240h1v1h-1zM455 240h1v1h-1zM457 240h1v1h-1zM459 240h1v1h-1zM403 241h1v1h-1zM411 241h1v1h-1zM414 241h1v1h-1zM418 241h1v1h-1zM423 241h2v1h-2zM426 241h1v1h-1zM429 241h1v1h-1zM431 241h1v1h-1zM436 241h1v1h-1zM442 241h1v1h-1zM445 241h1v1h-1zM447 241h1v1h-1zM449 241h2v1h-2zM457 241h1v1h-1zM459 241h1v1h-1zM405 242h2v1h-2zM412 242h1v1h-1zM414 242h1v1h-1zM416 242h1v1h-1zM419 242h2v1h-2zM423 242h1v1h-1zM426 242h1v1h-1zM429 242h1v1h-1zM432 242h1v1h-1zM436 242h1v1h-1zM439 242h2v1h-2zM444 242h1v1h-1zM446 242h3v1h-3zM455 242h1v1h-1zM457 242h1v1h-1zM459 242h1v1h-1zM403 243h4v1h-4zM408 243h1v1h-1zM410 243h1v1h-1zM412 243h3v1h-3zM416 243h2v1h-2zM419 243h2v1h-2zM422 243h3v1h-3zM426 243h4v1h-4zM433 243h3v1h-3zM437 243h7v1h-7zM445 243h11v1h-11zM457 243h3v1h-3zM402 244h7v1h-7zM410 244h2v1h-2zM413 244h3v1h-3zM417 244h12v1h-12zM430 244h2v1h-2zM433 244h1v1h-1zM436 244h1v1h-1zM438 244h4v1h-4zM444 244h11v1h-11zM456 244h1v1h-1zM458 244h2v1h-2zM403 245h5v1h-5zM409 245h3v1h-3zM414 245h5v1h-5zM420 245h4v1h-4zM425 245h5v1h-5zM432 245h1v1h-1zM436 245h5v1h-5zM442 245h1v1h-1zM445 245h1v1h-1zM447 245h3v1h-3zM451 245h1v1h-1zM453 245h1v1h-1zM455 245h2v1h-2zM459 245h1v1h-1zM402 246h58v1h-58zM402 247h58v1h-58zM402 248h58v1h-58zM402 249h15v1h-15zM418 249h24v1h-24zM443 249h17v1h-17zM402 250h58v1h-58zM402 251h58v1h-58zM402 252h35v1h-35zM438 252h22v1h-22zM402 253h56v1h-56zM459 253h1v1h-1zM402 254h58v1h-58zM402 255h58v1h-58zM402 256h58v1h-58zM402 257h6v1h-6zM409 257h39v1h-39zM449 257h11v1h-11zM402 258h58v1h-58zM402 259h19v1h-19zM422 259h9v1h-9zM432 259h28v1h-28z" fill="#d8691f"/>
<path d="M402.6 233V246" stroke="#d8691f" stroke-width="1"/><path d="M459.7 240.5V246" stroke="#d8691f" stroke-width="1"/>
<path d="M402.1 231.9h1v1h-1zM402.1 234h1v1h-1zM402.1 236h1v1h-1zM409.5 238h1v1h-1zM414.5 236.5h1v1h-1zM420.5 235.5h1v1h-1zM430.5 236h1v1h-1zM438.5 237h1v1h-1zM454.5 236.5h1v1h-1zM456.5 239h1v1h-1zM459.1 241h1v1h-1z" fill="#d8691f"/>
<path d="M99 272h1v28h-1zM100 272h1v28h-1zM101 272h1v12h-1zM101 291h1v9h-1zM102 272h1v28h-1zM103 272h1v28h-1zM104 272h1v28h-1zM105 272h1v28h-1zM106 272h1v28h-1zM107 272h1v1h-1zM107 275h1v7h-1zM107 287h1v13h-1zM108 272h1v28h-1zM109 272h1v8h-1zM109 282h1v18h-1zM110 275h1v25h-1zM111 272h1v12h-1zM111 285h1v15h-1zM112 272h1v3h-1zM112 279h1v4h-1zM112 285h1v1h-1zM112 288h1v12h-1zM113 272h1v18h-1zM113 291h1v9h-1zM114 272h1v28h-1zM115 277h1v4h-1zM115 283h1v17h-1zM116 272h1v6h-1zM116 280h1v13h-1zM116 298h1v2h-1zM117 272h1v3h-1zM117 276h1v6h-1zM117 287h1v13h-1zM118 272h1v6h-1zM118 279h1v21h-1zM119 274h1v15h-1zM119 296h1v4h-1zM120 272h1v3h-1zM120 278h1v5h-1zM120 284h1v16h-1zM121 274h1v11h-1zM121 290h1v10h-1zM122 272h1v20h-1zM122 293h1v7h-1zM123 272h1v8h-1zM123 287h1v13h-1zM124 272h1v3h-1zM124 277h1v4h-1zM124 283h1v1h-1zM124 285h1v1h-1zM124 289h1v11h-1zM125 272h1v14h-1zM125 291h1v9h-1zM126 272h1v20h-1zM126 297h1v3h-1zM127 272h1v5h-1zM127 279h1v8h-1zM127 297h1v3h-1zM128 272h1v8h-1zM128 291h1v9h-1zM129 272h1v2h-1zM129 282h1v18h-1zM130 272h1v2h-1zM130 275h1v25h-1zM131 272h1v16h-1zM131 290h1v10h-1zM132 272h1v7h-1zM132 280h1v1h-1zM132 284h1v6h-1zM132 291h1v9h-1zM133 279h1v9h-1zM133 289h1v11h-1zM134 272h1v9h-1zM134 286h1v14h-1zM135 272h1v7h-1zM135 284h1v13h-1zM135 299h1v1h-1zM136 272h1v8h-1zM136 281h1v5h-1zM136 289h1v3h-1zM136 295h1v5h-1zM137 272h1v3h-1zM137 278h1v1h-1zM137 285h1v15h-1zM138 272h1v2h-1zM138 279h1v21h-1zM139 272h1v26h-1zM139 299h1v1h-1zM140 272h1v9h-1zM140 285h1v15h-1zM141 272h1v14h-1zM141 287h1v13h-1zM142 279h1v4h-1zM142 284h1v5h-1zM143 272h1v13h-1zM143 287h1v13h-1zM144 272h1v28h-1zM145 272h1v27h-1zM146 272h1v1h-1zM146 276h1v14h-1zM146 291h1v2h-1zM146 295h1v5h-1z" fill="#d8691f"/>
<path d="M175 272h4v1h-4zM180 272h2v1h-2zM185 272h1v1h-1zM175 273h4v1h-4zM180 273h2v1h-2zM185 273h1v1h-1zM175 274h4v1h-4zM175 275h5v1h-5zM182 275h1v1h-1zM175 276h1v1h-1zM177 276h3v1h-3zM183 276h4v1h-4zM175 277h4v1h-4zM180 277h1v1h-1zM183 277h1v1h-1zM175 278h1v1h-1zM177 278h3v1h-3zM181 278h1v1h-1zM175 279h4v1h-4zM181 279h1v1h-1zM175 280h4v1h-4zM183 280h2v1h-2zM175 281h4v1h-4zM183 281h2v1h-2zM175 282h4v1h-4zM180 282h1v1h-1zM183 282h1v1h-1zM175 283h4v1h-4zM180 283h1v1h-1zM183 283h1v1h-1zM175 284h2v1h-2zM178 284h3v1h-3zM183 284h1v1h-1zM175 285h4v1h-4zM180 285h1v1h-1zM182 285h1v1h-1zM175 286h2v1h-2zM178 286h2v1h-2zM181 286h1v1h-1zM184 286h1v1h-1zM175 287h1v1h-1zM177 287h2v1h-2zM181 287h2v1h-2zM184 287h1v1h-1zM175 288h2v1h-2zM178 288h1v1h-1zM181 288h1v1h-1zM175 289h4v1h-4zM180 289h2v1h-2zM184 289h2v1h-2zM175 290h4v1h-4zM183 290h1v1h-1zM175 291h5v1h-5zM181 291h1v1h-1zM183 291h1v1h-1zM175 292h5v1h-5zM181 292h1v1h-1zM184 292h1v1h-1zM186 292h1v1h-1zM175 293h5v1h-5zM184 293h3v1h-3zM175 294h5v1h-5zM183 294h3v1h-3zM175 295h4v1h-4zM182 295h1v1h-1zM184 295h1v1h-1zM175 296h5v1h-5zM185 296h1v1h-1zM175 297h4v1h-4zM180 297h1v1h-1zM184 297h1v1h-1zM175 298h4v1h-4zM181 298h1v1h-1zM183 298h2v1h-2zM186 298h1v1h-1zM175 299h3v1h-3zM179 299h2v1h-2zM182 299h2v1h-2z" fill="#c9c9c9"/>
<path d="M195.85 272.75h0.9v0.9h-0.9zM199.65 275.55h0.9v0.9h-0.9zM190.85 290.55h0.9v0.9h-0.9zM191.95 296.05h0.9v0.9h-0.9z" fill="#c8c8c8"/>
<path d="M258 272h25v1h-25zM284 272h5v1h-5zM292 272h3v1h-3zM257 273h4v1h-4zM262 273h23v1h-23zM286 273h4v1h-4zM292 273h2v1h-2zM296 273h1v1h-1zM256 274h1v1h-1zM258 274h26v1h-26zM285 274h2v1h-2zM289 274h1v1h-1zM291 274h2v1h-2zM295 274h1v1h-1zM257 275h24v1h-24zM282 275h4v1h-4zM287 275h5v1h-5zM294 275h4v1h-4zM256 276h28v1h-28zM285 276h6v1h-6zM292 276h1v1h-1zM295 276h1v1h-1zM256 277h24v1h-24zM281 277h4v1h-4zM286 277h3v1h-3zM290 277h2v1h-2zM293 277h3v1h-3zM258 278h23v1h-23zM282 278h7v1h-7zM293 278h1v1h-1zM296 278h1v1h-1zM257 279h32v1h-32zM291 279h1v1h-1zM293 279h3v1h-3zM256 280h1v1h-1zM258 280h33v1h-33zM292 280h4v1h-4zM256 281h1v1h-1zM258 281h25v1h-25zM284 281h2v1h-2zM289 281h1v1h-1zM292 281h1v1h-1zM294 281h2v1h-2zM258 282h33v1h-33zM292 282h2v1h-2zM295 282h1v1h-1zM297 282h1v1h-1zM258 283h1v1h-1zM260 283h24v1h-24zM285 283h2v1h-2zM288 283h1v1h-1zM291 283h1v1h-1zM293 283h3v1h-3zM256 284h1v1h-1zM258 284h25v1h-25zM284 284h5v1h-5zM290 284h3v1h-3zM294 284h1v1h-1zM296 284h1v1h-1zM258 285h9v1h-9zM268 285h18v1h-18zM287 285h1v1h-1zM289 285h3v1h-3zM293 285h1v1h-1zM295 285h3v1h-3zM256 286h23v1h-23zM280 286h12v1h-12zM293 286h2v1h-2zM296 286h2v1h-2zM256 287h1v1h-1zM258 287h8v1h-8zM267 287h13v1h-13zM281 287h2v1h-2zM284 287h1v1h-1zM290 287h2v1h-2zM296 287h1v1h-1zM257 288h23v1h-23zM281 288h1v1h-1zM283 288h1v1h-1zM285 288h1v1h-1zM287 288h1v1h-1zM295 288h1v1h-1zM257 289h4v1h-4zM262 289h21v1h-21zM284 289h3v1h-3zM289 289h1v1h-1zM258 290h21v1h-21zM281 290h1v1h-1zM284 290h3v1h-3zM288 290h1v1h-1zM290 290h2v1h-2zM258 291h28v1h-28zM289 291h1v1h-1zM293 291h3v1h-3zM256 292h35v1h-35zM292 292h2v1h-2zM296 292h1v1h-1zM258 293h20v1h-20zM279 293h3v1h-3zM283 293h4v1h-4zM288 293h10v1h-10zM256 294h1v1h-1zM258 294h29v1h-29zM288 294h3v1h-3zM292 294h2v1h-2zM295 294h1v1h-1zM297 294h1v1h-1zM256 295h30v1h-30zM288 295h4v1h-4zM296 295h1v1h-1zM256 296h29v1h-29zM286 296h2v1h-2zM292 296h3v1h-3zM296 296h2v1h-2zM256 297h1v1h-1zM258 297h3v1h-3zM262 297h18v1h-18zM281 297h2v1h-2zM284 297h1v1h-1zM286 297h3v1h-3zM291 297h1v1h-1zM293 297h1v1h-1zM295 297h2v1h-2zM256 298h30v1h-30zM288 298h7v1h-7zM258 299h1v1h-1zM260 299h30v1h-30zM295 299h1v1h-1zM297 299h1v1h-1z" fill="#c9c9c9"/>
<path d="M340 272h5v1h-5zM346 272h38v1h-38zM339 273h3v1h-3zM343 273h41v1h-41zM338 274h1v1h-1zM340 274h1v1h-1zM342 274h42v1h-42zM336 275h1v1h-1zM339 275h45v1h-45zM335 276h1v1h-1zM338 276h46v1h-46zM334 277h1v1h-1zM336 277h3v1h-3zM340 277h44v1h-44zM334 278h1v1h-1zM336 278h1v1h-1zM339 278h2v1h-2zM342 278h42v1h-42zM332 279h1v1h-1zM334 279h2v1h-2zM337 279h6v1h-6zM344 279h40v1h-40zM334 280h2v1h-2zM337 280h3v1h-3zM341 280h21v1h-21zM363 280h7v1h-7zM371 280h13v1h-13zM335 281h4v1h-4zM341 281h6v1h-6zM348 281h34v1h-34zM383 281h1v1h-1zM330 282h1v1h-1zM334 282h4v1h-4zM340 282h44v1h-44zM334 283h2v1h-2zM338 283h38v1h-38zM377 283h7v1h-7zM328 284h1v1h-1zM338 284h46v1h-46zM327 285h1v1h-1zM335 285h4v1h-4zM341 285h6v1h-6zM348 285h36v1h-36zM333 286h1v1h-1zM336 286h7v1h-7zM344 286h40v1h-40zM335 287h1v1h-1zM337 287h47v1h-47zM327 288h1v1h-1zM334 288h1v1h-1zM337 288h47v1h-47zM330 289h1v1h-1zM335 289h1v1h-1zM337 289h4v1h-4zM342 289h1v1h-1zM344 289h8v1h-8zM353 289h31v1h-31zM337 290h3v1h-3zM342 290h16v1h-16zM359 290h25v1h-25zM330 291h2v1h-2zM334 291h3v1h-3zM339 291h45v1h-45zM333 292h1v1h-1zM336 292h1v1h-1zM338 292h2v1h-2zM341 292h3v1h-3zM345 292h39v1h-39zM329 293h1v1h-1zM333 293h2v1h-2zM337 293h7v1h-7zM345 293h33v1h-33zM379 293h5v1h-5zM335 294h1v1h-1zM338 294h1v1h-1zM342 294h42v1h-42zM339 295h3v1h-3zM345 295h2v1h-2zM348 295h36v1h-36zM334 296h2v1h-2zM338 296h1v1h-1zM340 296h44v1h-44zM335 297h1v1h-1zM338 297h1v1h-1zM341 297h43v1h-43zM336 298h3v1h-3zM340 298h1v1h-1zM344 298h40v1h-40zM339 299h1v1h-1zM341 299h4v1h-4zM346 299h38v1h-38z" fill="#e0e0e0"/>
<path d="M403 272h9v1h-9zM413 272h10v1h-10zM424 272h14v1h-14zM439 272h11v1h-11zM451 272h6v1h-6zM402 273h3v1h-3zM406 273h4v1h-4zM411 273h3v1h-3zM415 273h2v1h-2zM418 273h3v1h-3zM422 273h4v1h-4zM427 273h5v1h-5zM433 273h3v1h-3zM438 273h3v1h-3zM442 273h8v1h-8zM451 273h3v1h-3zM458 273h2v1h-2zM402 274h15v1h-15zM418 274h29v1h-29zM448 274h12v1h-12zM402 275h58v1h-58zM402 276h15v1h-15zM418 276h42v1h-42zM402 277h55v1h-55zM458 277h2v1h-2zM402 278h21v1h-21zM424 278h36v1h-36zM402 279h9v1h-9zM412 279h15v1h-15zM428 279h3v1h-3zM432 279h28v1h-28zM402 280h58v1h-58zM402 281h8v1h-8zM411 281h33v1h-33zM445 281h2v1h-2zM448 281h1v1h-1zM450 281h10v1h-10zM402 282h22v1h-22zM425 282h25v1h-25zM451 282h9v1h-9zM402 283h4v1h-4zM407 283h2v1h-2zM410 283h50v1h-50zM405 284h1v1h-1zM412 284h1v1h-1zM414 284h2v1h-2zM418 284h2v1h-2zM421 284h4v1h-4zM426 284h1v1h-1zM429 284h5v1h-5zM435 284h2v1h-2zM440 284h3v1h-3zM446 284h2v1h-2zM450 284h3v1h-3zM455 284h4v1h-4zM403 285h2v1h-2zM406 285h1v1h-1zM409 285h1v1h-1zM411 285h1v1h-1zM413 285h2v1h-2zM416 285h2v1h-2zM419 285h2v1h-2zM422 285h3v1h-3zM427 285h1v1h-1zM430 285h1v1h-1zM432 285h1v1h-1zM436 285h3v1h-3zM443 285h3v1h-3zM450 285h4v1h-4zM458 285h1v1h-1zM403 286h1v1h-1zM405 286h4v1h-4zM410 286h1v1h-1zM413 286h1v1h-1zM415 286h1v1h-1zM417 286h1v1h-1zM419 286h1v1h-1zM421 286h5v1h-5zM427 286h1v1h-1zM429 286h1v1h-1zM435 286h1v1h-1zM437 286h2v1h-2zM440 286h1v1h-1zM443 286h1v1h-1zM445 286h1v1h-1zM454 286h4v1h-4zM459 286h1v1h-1zM403 287h2v1h-2zM406 287h1v1h-1zM408 287h2v1h-2zM412 287h1v1h-1zM414 287h3v1h-3zM419 287h1v1h-1zM422 287h2v1h-2zM425 287h2v1h-2zM428 287h3v1h-3zM435 287h1v1h-1zM442 287h2v1h-2zM445 287h1v1h-1zM449 287h2v1h-2zM452 287h3v1h-3zM458 287h1v1h-1zM402 288h1v1h-1zM406 288h1v1h-1zM410 288h1v1h-1zM414 288h2v1h-2zM418 288h1v1h-1zM420 288h1v1h-1zM422 288h1v1h-1zM424 288h3v1h-3zM430 288h1v1h-1zM433 288h2v1h-2zM437 288h1v1h-1zM439 288h1v1h-1zM444 288h2v1h-2zM449 288h2v1h-2zM453 288h4v1h-4zM458 288h2v1h-2zM403 289h3v1h-3zM410 289h1v1h-1zM412 289h1v1h-1zM415 289h1v1h-1zM418 289h1v1h-1zM421 289h2v1h-2zM424 289h1v1h-1zM426 289h1v1h-1zM428 289h1v1h-1zM430 289h1v1h-1zM432 289h2v1h-2zM437 289h1v1h-1zM439 289h1v1h-1zM443 289h2v1h-2zM447 289h1v1h-1zM450 289h1v1h-1zM453 289h1v1h-1zM455 289h1v1h-1zM457 289h1v1h-1zM459 289h1v1h-1zM402 290h52v1h-52zM455 290h5v1h-5zM403 291h5v1h-5zM409 291h3v1h-3zM413 291h8v1h-8zM422 291h38v1h-38zM402 292h23v1h-23zM427 292h33v1h-33zM402 293h1v1h-1zM404 293h20v1h-20zM425 293h15v1h-15zM441 293h7v1h-7zM449 293h11v1h-11zM402 294h5v1h-5zM408 294h4v1h-4zM415 294h18v1h-18zM434 294h4v1h-4zM441 294h7v1h-7zM450 294h3v1h-3zM454 294h1v1h-1zM456 294h2v1h-2zM459 294h1v1h-1zM404 295h4v1h-4zM409 295h2v1h-2zM412 295h1v1h-1zM414 295h1v1h-1zM416 295h1v1h-1zM419 295h2v1h-2zM423 295h1v1h-1zM427 295h6v1h-6zM434 295h3v1h-3zM438 295h14v1h-14zM453 295h7v1h-7zM402 296h3v1h-3zM407 296h2v1h-2zM410 296h3v1h-3zM414 296h4v1h-4zM420 296h1v1h-1zM422 296h6v1h-6zM431 296h4v1h-4zM436 296h1v1h-1zM441 296h9v1h-9zM451 296h2v1h-2zM454 296h5v1h-5zM402 297h1v1h-1zM404 297h2v1h-2zM407 297h1v1h-1zM409 297h3v1h-3zM413 297h2v1h-2zM416 297h3v1h-3zM420 297h1v1h-1zM422 297h1v1h-1zM424 297h1v1h-1zM426 297h1v1h-1zM428 297h2v1h-2zM431 297h2v1h-2zM434 297h8v1h-8zM443 297h4v1h-4zM448 297h5v1h-5zM455 297h1v1h-1zM458 297h1v1h-1zM402 298h1v1h-1zM406 298h1v1h-1zM409 298h4v1h-4zM416 298h3v1h-3zM420 298h4v1h-4zM428 298h13v1h-13zM444 298h2v1h-2zM447 298h8v1h-8zM456 298h1v1h-1zM458 298h2v1h-2zM402 299h6v1h-6zM411 299h3v1h-3zM415 299h1v1h-1zM417 299h1v1h-1zM420 299h5v1h-5zM426 299h2v1h-2zM429 299h8v1h-8zM438 299h5v1h-5zM445 299h4v1h-4zM450 299h5v1h-5zM459 299h1v1h-1z" fill="#d8691f"/>
<path d="M479 272h23v1h-23zM479 273h18v1h-18zM498 273h3v1h-3zM502 273h5v1h-5zM479 274h23v1h-23zM504 274h5v1h-5zM479 275h25v1h-25zM505 275h2v1h-2zM479 276h19v1h-19zM499 276h8v1h-8zM510 276h1v1h-1zM479 277h25v1h-25zM505 277h1v1h-1zM507 277h1v1h-1zM510 277h4v1h-4zM517 277h1v1h-1zM519 277h2v1h-2zM479 278h26v1h-26zM507 278h1v1h-1zM511 278h1v1h-1zM516 278h1v1h-1zM519 278h1v1h-1zM479 279h25v1h-25zM508 279h1v1h-1zM510 279h4v1h-4zM515 279h1v1h-1zM479 280h27v1h-27zM509 280h1v1h-1zM512 280h1v1h-1zM514 280h1v1h-1zM479 281h30v1h-30zM510 281h1v1h-1zM512 281h1v1h-1zM514 281h1v1h-1zM479 282h26v1h-26zM507 282h2v1h-2zM511 282h4v1h-4zM517 282h1v1h-1zM479 283h25v1h-25zM505 283h3v1h-3zM510 283h5v1h-5zM519 283h1v1h-1zM479 284h25v1h-25zM506 284h1v1h-1zM508 284h2v1h-2zM511 284h1v1h-1zM514 284h4v1h-4zM519 284h2v1h-2zM479 285h26v1h-26zM506 285h3v1h-3zM510 285h1v1h-1zM512 285h3v1h-3zM516 285h1v1h-1zM479 286h23v1h-23zM506 286h1v1h-1zM510 286h2v1h-2zM513 286h1v1h-1zM479 287h22v1h-22zM503 287h1v1h-1zM505 287h3v1h-3zM509 287h1v1h-1zM511 287h1v1h-1zM479 288h22v1h-22zM502 288h3v1h-3zM507 288h1v1h-1zM479 289h20v1h-20zM500 289h1v1h-1zM479 290h22v1h-22zM502 290h1v1h-1zM505 290h1v1h-1zM479 291h22v1h-22zM502 291h3v1h-3zM506 291h1v1h-1zM508 291h3v1h-3zM479 292h23v1h-23zM504 292h2v1h-2zM508 292h1v1h-1zM512 292h1v1h-1zM515 292h2v1h-2zM479 293h24v1h-24zM506 293h6v1h-6zM515 293h2v1h-2zM479 294h23v1h-23zM503 294h2v1h-2zM506 294h1v1h-1zM508 294h2v1h-2zM512 294h2v1h-2zM479 295h21v1h-21zM502 295h1v1h-1zM507 295h3v1h-3zM479 296h21v1h-21zM501 296h1v1h-1zM479 297h19v1h-19zM499 297h3v1h-3zM479 298h17v1h-17zM479 299h17v1h-17z" fill="#c9c9c9"/>
<path d="M530.25 277.75h0.9v0.9h-0.9zM521.55 276.05h0.9v0.9h-0.9zM527.55 283.55h0.9v0.9h-0.9z" fill="#c8c8c8"/>
</g>
<path d="M99.5 133L146.2 121.3" stroke="#04121f" stroke-width="0.6"/>
<path d="M97.5 64.7V60.5H99.5V64.7M99.5 64.7V43H101.5V64.7M101.5 64.7V28.2H103.5V64.7M103.5 64.7V43.5H105.5V64.7M105.5 64.7V45.5H107.5V64.7M107.5 64.7V54.1H109.5V64.7M109.5 64.7V57.1H111.5V64.7M111.5 64.7V54.5H113.5V64.7M113.5 64.7V53.2H115.5V64.7M115.5 64.7V60.3H117.5V64.7M117.5 64.7V61.4H119.5V64.7M119.5 64.7V60.5H121.5V64.7M121.5 64.7V58.4H123.5V64.7M123.5 64.7V55.4H125.5V64.7M125.5 64.7V55H127.5V64.7M127.5 64.7V51.6H129.5V64.7M129.5 64.7V55.4H131.5V64.7M131.5 64.7V59.3H133.5V64.7M133.5 64.7V61.2H135.5V64.7M135.5 64.7V62.5H137.5V64.7M137.5 64.7V56.1H139.5V64.7M139.5 64.7V57.1H141.5V64.7M141.5 64.7V57.3H143.5V64.7M143.5 64.7V60.5H145.5V64.7M145.5 64.7V57.3H147.5V64.7" fill="#e6e6e6" stroke="#505050" stroke-width="0.7"/>
<path d="M174.5 104.6V69.9" stroke="#333" stroke-width="1"/>
<path d="M256.2 144.5V143.08H258V144.5M258 144.5V139.59H259.8V144.5M259.8 144.5V134.05H261.6V144.5M261.6 144.5V122.3H263.4V144.5M263.4 144.5V113.46H265.2V144.5M265.2 144.5V111.9H267V144.5M267 144.5V113.58H268.8V144.5M268.8 144.5V115.39H270.6V144.5M270.6 144.5V117.65H272.4V144.5M272.4 144.5V119.85H274.2V144.5M274.2 144.5V122.05H276V144.5M276 144.5V126.48H277.8V144.5M277.8 144.5V130.29H279.6V144.5M279.6 144.5V132.67H281.4V144.5M281.4 144.5V135.1H283.2V144.5M283.2 144.5V138.1H285V144.5M285 144.5V140.46H286.8V144.5M286.8 144.5V141.6H288.6V144.5M288.6 144.5V142.46H290.4V144.5M290.4 144.5V143.01H292.2V144.5M292.2 144.5V143.35H294V144.5M294 144.5V143.66H295.8V144.5M295.8 144.5V143.9H297.6V144.5" fill="#f8f8f8" stroke="#5c5c5c" stroke-width="0.45"/>
<path d="M332.1 184.4V183.9H334.43V184.4M334.43 184.4V183.1H336.75V184.4M336.75 184.4V182.2H339.08V184.4M339.08 184.4V181.6H341.4V184.4M341.4 184.4V180.8H343.73V184.4M343.73 184.4V179.9H346.06V184.4M346.06 184.4V178.7H348.38V184.4M348.38 184.4V176.9H350.71V184.4M350.71 184.4V174.6H353.03V184.4M353.03 184.4V173.4H355.36V184.4M355.36 184.4V171.1H357.69V184.4M357.69 184.4V170.5H360.01V184.4M360.01 184.4V169.3H362.34V184.4M362.34 184.4V167H364.67V184.4M364.67 184.4V165.8H366.99V184.4M366.99 184.4V160.6H369.32V184.4M369.32 184.4V162.3H371.64V184.4M371.64 184.4V160H373.97V184.4M373.97 184.4V154.8H376.3V184.4M376.3 184.4V149.5H378.62V184.4M378.62 184.4V151.8H380.95V184.4M380.95 184.4V160H383.27V184.4M383.27 184.4V165.3H385.6V184.4" fill="#f6f6f6" stroke="#4d4d4d" stroke-width="0.5"/>
<path d="M402.6 224.3V189.5H405.6V224.3M456.9 224.3V216.4H459.8V224.3" fill="#f4f4f4" stroke="#555" stroke-width="0.7"/>
<path d="M405.6 223.5H456.9" stroke="#666" stroke-width="0.9"/>
<path d="M478.6 264.2V254.96H480.36V264.2M480.36 264.2V245.63H482.11V264.2M482.11 264.2V238.75H483.87V264.2M483.87 264.2V236.73H485.63V264.2M485.63 264.2V233.84H487.38V264.2M487.38 264.2V232.15H489.14V264.2M489.14 264.2V232.91H490.9V264.2M490.9 264.2V235.86H492.65V264.2M492.65 264.2V239.13H494.41V264.2M494.41 264.2V241.28H496.17V264.2M496.17 264.2V245.06H497.92V264.2M497.92 264.2V247.51H499.68V264.2M499.68 264.2V250.36H501.43V264.2M501.43 264.2V252.73H503.19V264.2M503.19 264.2V255.47H504.95V264.2M504.95 264.2V257.34H506.7V264.2M506.7 264.2V259.58H508.46V264.2M508.46 264.2V261.28H510.22V264.2M510.22 264.2V262.6H511.97V264.2M511.97 264.2V263.39H513.73V264.2M513.73 264.2V263.85H515.49V264.2M515.49 264.2V264.03H517.24V264.2M517.24 264.2V264.18H519V264.2" fill="#f8f8f8" stroke="#5c5c5c" stroke-width="0.45"/>
<path d="M555.4 304.1V298.6H557.21V304.1M557.21 304.1V298.2H559.01V304.1M559.01 304.1V297.2H560.82V304.1M560.82 304.1V295H562.63V304.1M562.63 304.1V291.3H564.44V304.1M564.44 304.1V284H566.24V304.1M566.24 304.1V281.1H568.05V304.1M568.05 304.1V277.5H569.86V304.1M569.86 304.1V278.2H571.66V304.1M571.66 304.1V289.2H573.47V304.1M573.47 304.1V292H575.28V304.1M575.28 304.1V295.7H577.09V304.1M577.09 304.1V294.3H578.89V304.1M578.89 304.1V295H580.7V304.1M580.7 304.1V289.9H582.51V304.1M582.51 304.1V284.8H584.31V304.1M584.31 304.1V279H586.12V304.1M586.12 304.1V279.7H587.93V304.1M587.93 304.1V279H589.74V304.1M589.74 304.1V281.9H591.54V304.1M591.54 304.1V283.3H593.35V304.1M593.35 304.1V281.9H595.16V304.1M595.16 304.1V279.7H596.96V304.1M596.96 304.1V270.9H598.77V304.1M598.77 304.1V269.5H600.58V304.1M600.58 304.1V279H602.39V304.1M602.39 304.1V289.2H604.19V304.1M604.19 304.1V292.8H606V304.1" fill="#f6f6f6" stroke="#4d4d4d" stroke-width="0.5"/>
<path d="M90.5 26.4V64.7H164.5V26.4" fill="none" stroke="#8a8a8a" stroke-width="1"/>
<path d="M90 25.9H165" stroke="#b8b8b8" stroke-width="1"/>
<path d="M117.6 64.7v-1.3M117.6 25.9v1.3M156.1 64.7v-1.3M156.1 25.9v1.3" stroke="#9a9a9a" stroke-width="0.7" fill="none"/>
<path d="M90.5 66.3V104.6H164.5V66.3" fill="none" stroke="#8a8a8a" stroke-width="1"/>
<path d="M90 65.8H165" stroke="#b8b8b8" stroke-width="1"/>
<path d="M117.6 104.6v-1.3M117.6 65.8v1.3M156.1 104.6v-1.3M156.1 65.8v1.3M90.5 100.3h1.3M164.5 100.3h-1.3M90.5 85.4h1.3M164.5 85.4h-1.3M90.5 70.5h1.3M164.5 70.5h-1.3" stroke="#9a9a9a" stroke-width="0.7" fill="none"/>
<path d="M166.37 66.3V104.6H240.37V66.3" fill="none" stroke="#8a8a8a" stroke-width="1"/>
<path d="M165.87 65.8H240.87" stroke="#b8b8b8" stroke-width="1"/>
<path d="M174.9 104.6v-1.3M174.9 65.8v1.3M189.12 104.6v-1.3M189.12 65.8v1.3M203.35 104.6v-1.3M203.35 65.8v1.3M217.58 104.6v-1.3M217.58 65.8v1.3M231.8 104.6v-1.3M231.8 65.8v1.3M166.37 100.3h1.3M240.37 100.3h-1.3M166.37 85.4h1.3M240.37 85.4h-1.3M166.37 70.5h1.3M240.37 70.5h-1.3" stroke="#9a9a9a" stroke-width="0.7" fill="none"/>
<path d="M90.5 106.2V144.5H164.5V106.2" fill="none" stroke="#8a8a8a" stroke-width="1"/>
<path d="M90 105.7H165" stroke="#b8b8b8" stroke-width="1"/>
<path d="M117.6 144.5v-1.3M117.6 105.7v1.3M156.1 144.5v-1.3M156.1 105.7v1.3M90.5 140.3h1.3M164.5 140.3h-1.3M90.5 125.35h1.3M164.5 125.35h-1.3M90.5 110.4h1.3M164.5 110.4h-1.3" stroke="#9a9a9a" stroke-width="0.7" fill="none"/>
<path d="M166.37 106.2V144.5H240.37V106.2" fill="none" stroke="#8a8a8a" stroke-width="1"/>
<path d="M165.87 105.7H240.87" stroke="#b8b8b8" stroke-width="1"/>
<path d="M174.9 144.5v-1.3M174.9 105.7v1.3M189.12 144.5v-1.3M189.12 105.7v1.3M203.35 144.5v-1.3M203.35 105.7v1.3M217.58 144.5v-1.3M217.58 105.7v1.3M231.8 144.5v-1.3M231.8 105.7v1.3M166.37 140.3h1.3M240.37 140.3h-1.3M166.37 125.35h1.3M240.37 125.35h-1.3M166.37 110.4h1.3M240.37 110.4h-1.3" stroke="#9a9a9a" stroke-width="0.7" fill="none"/>
<path d="M242.24 106.2V144.5H316.24V106.2" fill="none" stroke="#8a8a8a" stroke-width="1"/>
<path d="M241.74 105.7H316.74" stroke="#b8b8b8" stroke-width="1"/>
<path d="M250.5 144.5v-1.3M250.5 105.7v1.3M264.8 144.5v-1.3M264.8 105.7v1.3M279.1 144.5v-1.3M279.1 105.7v1.3M293.4 144.5v-1.3M293.4 105.7v1.3M307.7 144.5v-1.3M307.7 105.7v1.3M242.24 140.3h1.3M316.24 140.3h-1.3M242.24 125.35h1.3M316.24 125.35h-1.3M242.24 110.4h1.3M316.24 110.4h-1.3" stroke="#9a9a9a" stroke-width="0.7" fill="none"/>
<path d="M90.5 146.1V184.4H164.5V146.1" fill="none" stroke="#8a8a8a" stroke-width="1"/>
<path d="M90 145.6H165" stroke="#b8b8b8" stroke-width="1"/>
<path d="M117.6 184.4v-1.3M117.6 145.6v1.3M156.1 184.4v-1.3M156.1 145.6v1.3M90.5 170h1.3M164.5 170h-1.3M90.5 150.5h1.3M164.5 150.5h-1.3" stroke="#9a9a9a" stroke-width="0.7" fill="none"/>
<path d="M166.37 146.1V184.4H240.37V146.1" fill="none" stroke="#8a8a8a" stroke-width="1"/>
<path d="M165.87 145.6H240.87" stroke="#b8b8b8" stroke-width="1"/>
<path d="M174.9 184.4v-1.3M174.9 145.6v1.3M189.12 184.4v-1.3M189.12 145.6v1.3M203.35 184.4v-1.3M203.35 145.6v1.3M217.58 184.4v-1.3M217.58 145.6v1.3M231.8 184.4v-1.3M231.8 145.6v1.3M166.37 170h1.3M240.37 170h-1.3M166.37 150.5h1.3M240.37 150.5h-1.3" stroke="#9a9a9a" stroke-width="0.7" fill="none"/>
<path d="M242.24 146.1V184.4H316.24V146.1" fill="none" stroke="#8a8a8a" stroke-width="1"/>
<path d="M241.74 145.6H316.74" stroke="#b8b8b8" stroke-width="1"/>
<path d="M250.5 184.4v-1.3M250.5 145.6v1.3M264.8 184.4v-1.3M264.8 145.6v1.3M279.1 184.4v-1.3M279.1 145.6v1.3M293.4 184.4v-1.3M293.4 145.6v1.3M307.7 184.4v-1.3M307.7 145.6v1.3M242.24 170h1.3M316.24 170h-1.3M242.24 150.5h1.3M316.24 150.5h-1.3" stroke="#9a9a9a" stroke-width="0.7" fill="none"/>
<path d="M318.11 146.1V184.4H392.11V146.1" fill="none" stroke="#8a8a8a" stroke-width="1"/>
<path d="M317.61 145.6H392.61" stroke="#b8b8b8" stroke-width="1"/>
<path d="M347 184.4v-1.3M347 145.6v1.3M383.7 184.4v-1.3M383.7 145.6v1.3M318.11 170h1.3M392.11 170h-1.3M318.11 150.5h1.3M392.11 150.5h-1.3" stroke="#9a9a9a" stroke-width="0.7" fill="none"/>
<path d="M90.5 186V224.3H164.5V186" fill="none" stroke="#8a8a8a" stroke-width="1"/>
<path d="M90 185.5H165" stroke="#b8b8b8" stroke-width="1"/>
<path d="M117.6 224.3v-1.3M117.6 185.5v1.3M156.1 224.3v-1.3M156.1 185.5v1.3M90.5 220.3h1.3M164.5 220.3h-1.3M90.5 210.4h1.3M164.5 210.4h-1.3M90.5 200.5h1.3M164.5 200.5h-1.3M90.5 190.6h1.3M164.5 190.6h-1.3" stroke="#9a9a9a" stroke-width="0.7" fill="none"/>
<path d="M166.37 186V224.3H240.37V186" fill="none" stroke="#8a8a8a" stroke-width="1"/>
<path d="M165.87 185.5H240.87" stroke="#b8b8b8" stroke-width="1"/>
<path d="M174.9 224.3v-1.3M174.9 185.5v1.3M189.12 224.3v-1.3M189.12 185.5v1.3M203.35 224.3v-1.3M203.35 185.5v1.3M217.58 224.3v-1.3M217.58 185.5v1.3M231.8 224.3v-1.3M231.8 185.5v1.3M166.37 220.3h1.3M240.37 220.3h-1.3M166.37 210.4h1.3M240.37 210.4h-1.3M166.37 200.5h1.3M240.37 200.5h-1.3M166.37 190.6h1.3M240.37 190.6h-1.3" stroke="#9a9a9a" stroke-width="0.7" fill="none"/>
<path d="M242.24 186V224.3H316.24V186" fill="none" stroke="#8a8a8a" stroke-width="1"/>
<path d="M241.74 185.5H316.74" stroke="#b8b8b8" stroke-width="1"/>
<path d="M250.5 224.3v-1.3M250.5 185.5v1.3M264.8 224.3v-1.3M264.8 185.5v1.3M279.1 224.3v-1.3M279.1 185.5v1.3M293.4 224.3v-1.3M293.4 185.5v1.3M307.7 224.3v-1.3M307.7 185.5v1.3M242.24 220.3h1.3M316.24 220.3h-1.3M242.24 210.4h1.3M316.24 210.4h-1.3M242.24 200.5h1.3M316.24 200.5h-1.3M242.24 190.6h1.3M316.24 190.6h-1.3" stroke="#9a9a9a" stroke-width="0.7" fill="none"/>
<path d="M318.11 186V224.3H392.11V186" fill="none" stroke="#8a8a8a" stroke-width="1"/>
<path d="M317.61 185.5H392.61" stroke="#b8b8b8" stroke-width="1"/>
<path d="M347 224.3v-1.3M347 185.5v1.3M383.7 224.3v-1.3M383.7 185.5v1.3M318.11 220.3h1.3M392.11 220.3h-1.3M318.11 210.4h1.3M392.11 210.4h-1.3M318.11 200.5h1.3M392.11 200.5h-1.3M318.11 190.6h1.3M392.11 190.6h-1.3" stroke="#9a9a9a" stroke-width="0.7" fill="none"/>
<path d="M393.98 186V224.3H467.98V186" fill="none" stroke="#8a8a8a" stroke-width="1"/>
<path d="M393.48 185.5H468.48" stroke="#b8b8b8" stroke-width="1"/>
<path d="M402.4 224.3v-1.3M402.4 185.5v1.3M421.47 224.3v-1.3M421.47 185.5v1.3M440.53 224.3v-1.3M440.53 185.5v1.3M459.6 224.3v-1.3M459.6 185.5v1.3M393.98 220.3h1.3M467.98 220.3h-1.3M393.98 210.4h1.3M467.98 210.4h-1.3M393.98 200.5h1.3M467.98 200.5h-1.3M393.98 190.6h1.3M467.98 190.6h-1.3" stroke="#9a9a9a" stroke-width="0.7" fill="none"/>
<path d="M90.5 225.9V264.2H164.5V225.9" fill="none" stroke="#8a8a8a" stroke-width="1"/>
<path d="M90 225.4H165" stroke="#b8b8b8" stroke-width="1"/>
<path d="M117.6 264.2v-1.3M117.6 225.4v1.3M156.1 264.2v-1.3M156.1 225.4v1.3M90.5 260.1h1.3M164.5 260.1h-1.3M90.5 245.25h1.3M164.5 245.25h-1.3M90.5 230.4h1.3M164.5 230.4h-1.3" stroke="#9a9a9a" stroke-width="0.7" fill="none"/>
<path d="M166.37 225.9V264.2H240.37V225.9" fill="none" stroke="#8a8a8a" stroke-width="1"/>
<path d="M165.87 225.4H240.87" stroke="#b8b8b8" stroke-width="1"/>
<path d="M174.9 264.2v-1.3M174.9 225.4v1.3M189.12 264.2v-1.3M189.12 225.4v1.3M203.35 264.2v-1.3M203.35 225.4v1.3M217.58 264.2v-1.3M217.58 225.4v1.3M231.8 264.2v-1.3M231.8 225.4v1.3M166.37 260.1h1.3M240.37 260.1h-1.3M166.37 245.25h1.3M240.37 245.25h-1.3M166.37 230.4h1.3M240.37 230.4h-1.3" stroke="#9a9a9a" stroke-width="0.7" fill="none"/>
<path d="M242.24 225.9V264.2H316.24V225.9" fill="none" stroke="#8a8a8a" stroke-width="1"/>
<path d="M241.74 225.4H316.74" stroke="#b8b8b8" stroke-width="1"/>
<path d="M250.5 264.2v-1.3M250.5 225.4v1.3M264.8 264.2v-1.3M264.8 225.4v1.3M279.1 264.2v-1.3M279.1 225.4v1.3M293.4 264.2v-1.3M293.4 225.4v1.3M307.7 264.2v-1.3M307.7 225.4v1.3M242.24 260.1h1.3M316.24 260.1h-1.3M242.24 245.25h1.3M316.24 245.25h-1.3M242.24 230.4h1.3M316.24 230.4h-1.3" stroke="#9a9a9a" stroke-width="0.7" fill="none"/>
<path d="M318.11 225.9V264.2H392.11V225.9" fill="none" stroke="#8a8a8a" stroke-width="1"/>
<path d="M317.61 225.4H392.61" stroke="#b8b8b8" stroke-width="1"/>
<path d="M347 264.2v-1.3M347 225.4v1.3M383.7 264.2v-1.3M383.7 225.4v1.3M318.11 260.1h1.3M392.11 260.1h-1.3M318.11 245.25h1.3M392.11 245.25h-1.3M318.11 230.4h1.3M392.11 230.4h-1.3" stroke="#9a9a9a" stroke-width="0.7" fill="none"/>
<path d="M393.98 225.9V264.2H467.98V225.9" fill="none" stroke="#8a8a8a" stroke-width="1"/>
<path d="M393.48 225.4H468.48" stroke="#b8b8b8" stroke-width="1"/>
<path d="M402.4 264.2v-1.3M402.4 225.4v1.3M421.47 264.2v-1.3M421.47 225.4v1.3M440.53 264.2v-1.3M440.53 225.4v1.3M459.6 264.2v-1.3M459.6 225.4v1.3M393.98 260.1h1.3M467.98 260.1h-1.3M393.98 245.25h1.3M467.98 245.25h-1.3M393.98 230.4h1.3M467.98 230.4h-1.3" stroke="#9a9a9a" stroke-width="0.7" fill="none"/>
<path d="M469.85 225.9V264.2H543.85V225.9" fill="none" stroke="#8a8a8a" stroke-width="1"/>
<path d="M469.35 225.4H544.35" stroke="#b8b8b8" stroke-width="1"/>
<path d="M478 264.2v-1.3M478 225.4v1.3M506.65 264.2v-1.3M506.65 225.4v1.3M535.3 264.2v-1.3M535.3 225.4v1.3M469.85 260.1h1.3M543.85 260.1h-1.3M469.85 245.25h1.3M543.85 245.25h-1.3M469.85 230.4h1.3M543.85 230.4h-1.3" stroke="#9a9a9a" stroke-width="0.7" fill="none"/>
<path d="M90.5 265.8V304.1H164.5V265.8" fill="none" stroke="#8a8a8a" stroke-width="1"/>
<path d="M90 265.3H165" stroke="#b8b8b8" stroke-width="1"/>
<path d="M117.6 304.1v-1.3M117.6 265.3v1.3M156.1 304.1v-1.3M156.1 265.3v1.3M90.5 300.1h1.3M164.5 300.1h-1.3M90.5 285.25h1.3M164.5 285.25h-1.3M90.5 270.4h1.3M164.5 270.4h-1.3" stroke="#9a9a9a" stroke-width="0.7" fill="none"/>
<path d="M166.37 265.8V304.1H240.37V265.8" fill="none" stroke="#8a8a8a" stroke-width="1"/>
<path d="M165.87 265.3H240.87" stroke="#b8b8b8" stroke-width="1"/>
<path d="M174.9 304.1v-1.3M174.9 265.3v1.3M189.12 304.1v-1.3M189.12 265.3v1.3M203.35 304.1v-1.3M203.35 265.3v1.3M217.58 304.1v-1.3M217.58 265.3v1.3M231.8 304.1v-1.3M231.8 265.3v1.3M166.37 300.1h1.3M240.37 300.1h-1.3M166.37 285.25h1.3M240.37 285.25h-1.3M166.37 270.4h1.3M240.37 270.4h-1.3" stroke="#9a9a9a" stroke-width="0.7" fill="none"/>
<path d="M242.24 265.8V304.1H316.24V265.8" fill="none" stroke="#8a8a8a" stroke-width="1"/>
<path d="M241.74 265.3H316.74" stroke="#b8b8b8" stroke-width="1"/>
<path d="M250.5 304.1v-1.3M250.5 265.3v1.3M264.8 304.1v-1.3M264.8 265.3v1.3M279.1 304.1v-1.3M279.1 265.3v1.3M293.4 304.1v-1.3M293.4 265.3v1.3M307.7 304.1v-1.3M307.7 265.3v1.3M242.24 300.1h1.3M316.24 300.1h-1.3M242.24 285.25h1.3M316.24 285.25h-1.3M242.24 270.4h1.3M316.24 270.4h-1.3" stroke="#9a9a9a" stroke-width="0.7" fill="none"/>
<path d="M318.11 265.8V304.1H392.11V265.8" fill="none" stroke="#8a8a8a" stroke-width="1"/>
<path d="M317.61 265.3H392.61" stroke="#b8b8b8" stroke-width="1"/>
<path d="M347 304.1v-1.3M347 265.3v1.3M383.7 304.1v-1.3M383.7 265.3v1.3M318.11 300.1h1.3M392.11 300.1h-1.3M318.11 285.25h1.3M392.11 285.25h-1.3M318.11 270.4h1.3M392.11 270.4h-1.3" stroke="#9a9a9a" stroke-width="0.7" fill="none"/>
<path d="M393.98 265.8V304.1H467.98V265.8" fill="none" stroke="#8a8a8a" stroke-width="1"/>
<path d="M393.48 265.3H468.48" stroke="#b8b8b8" stroke-width="1"/>
<path d="M402.4 304.1v-1.3M402.4 265.3v1.3M421.47 304.1v-1.3M421.47 265.3v1.3M440.53 304.1v-1.3M440.53 265.3v1.3M459.6 304.1v-1.3M459.6 265.3v1.3M393.98 300.1h1.3M467.98 300.1h-1.3M393.98 285.25h1.3M467.98 285.25h-1.3M393.98 270.4h1.3M467.98 270.4h-1.3" stroke="#9a9a9a" stroke-width="0.7" fill="none"/>
<path d="M469.85 265.8V304.1H543.85V265.8" fill="none" stroke="#8a8a8a" stroke-width="1"/>
<path d="M469.35 265.3H544.35" stroke="#b8b8b8" stroke-width="1"/>
<path d="M478 304.1v-1.3M478 265.3v1.3M506.65 304.1v-1.3M506.65 265.3v1.3M535.3 304.1v-1.3M535.3 265.3v1.3M469.85 300.1h1.3M543.85 300.1h-1.3M469.85 285.25h1.3M543.85 285.25h-1.3M469.85 270.4h1.3M543.85 270.4h-1.3" stroke="#9a9a9a" stroke-width="0.7" fill="none"/>
<path d="M545.72 265.8V304.1H619.72V265.8" fill="none" stroke="#8a8a8a" stroke-width="1"/>
<path d="M545.22 265.3H620.22" stroke="#b8b8b8" stroke-width="1"/>
<path d="M553.3 304.1v-1.3M553.3 265.3v1.3M581.5 304.1v-1.3M581.5 265.3v1.3M609.7 304.1v-1.3M609.7 265.3v1.3M545.72 300.1h1.3M619.72 300.1h-1.3M545.72 285.25h1.3M619.72 285.25h-1.3M545.72 270.4h1.3M619.72 270.4h-1.3" stroke="#9a9a9a" stroke-width="0.7" fill="none"/>
<text x="117.6" y="314.2" font-size="7.2" fill="#262626" stroke="#262626" stroke-width="0.15" text-anchor="middle">10</text>
<text x="156.1" y="314.2" font-size="7.2" fill="#262626" stroke="#262626" stroke-width="0.15" text-anchor="middle">20</text>
<text x="174.9" y="314.2" font-size="7.2" fill="#262626" stroke="#262626" stroke-width="0.15" text-anchor="middle">0</text>
<text x="203.35" y="314.2" font-size="7.2" fill="#262626" stroke="#262626" stroke-width="0.15" text-anchor="middle">10</text>
<text x="231.8" y="314.2" font-size="7.2" fill="#262626" stroke="#262626" stroke-width="0.15" text-anchor="middle">20</text>
<text x="250.5" y="314.2" font-size="7.2" fill="#262626" stroke="#262626" stroke-width="0.15" text-anchor="middle">0</text>
<text x="279.1" y="314.2" font-size="7.2" fill="#262626" stroke="#262626" stroke-width="0.15" text-anchor="middle">10</text>
<text x="307.7" y="314.2" font-size="7.2" fill="#262626" stroke="#262626" stroke-width="0.15" text-anchor="middle">20</text>
<text x="347" y="314.2" font-size="7.2" fill="#262626" stroke="#262626" stroke-width="0.15" text-anchor="middle">50</text>
<text x="383.7" y="314.2" font-size="7.2" fill="#262626" stroke="#262626" stroke-width="0.15" text-anchor="middle">100</text>
<text x="402.4" y="314.2" font-size="7.2" fill="#262626" stroke="#262626" stroke-width="0.15" text-anchor="middle">0</text>
<text x="421.47" y="314.2" font-size="7.2" fill="#262626" stroke="#262626" stroke-width="0.15" text-anchor="middle">20</text>
<text x="440.53" y="314.2" font-size="7.2" fill="#262626" stroke="#262626" stroke-width="0.15" text-anchor="middle">40</text>
<text x="459.6" y="314.2" font-size="7.2" fill="#262626" stroke="#262626" stroke-width="0.15" text-anchor="middle">60</text>
<text x="478" y="314.2" font-size="7.2" fill="#262626" stroke="#262626" stroke-width="0.15" text-anchor="middle">0</text>
<text x="506.65" y="314.2" font-size="7.2" fill="#262626" stroke="#262626" stroke-width="0.15" text-anchor="middle">10</text>
<text x="535.3" y="314.2" font-size="7.2" fill="#262626" stroke="#262626" stroke-width="0.15" text-anchor="middle">20</text>
<text x="553.3" y="314.2" font-size="7.2" fill="#262626" stroke="#262626" stroke-width="0.15" text-anchor="middle">0</text>
<text x="581.5" y="314.2" font-size="7.2" fill="#262626" stroke="#262626" stroke-width="0.15" text-anchor="middle">200</text>
<text x="609.7" y="314.2" font-size="7.2" fill="#262626" stroke="#262626" stroke-width="0.15" text-anchor="middle">400</text>
<text x="88.2" y="102.9" font-size="7.2" fill="#262626" stroke="#262626" stroke-width="0.15" text-anchor="end">0</text>
<text x="88.2" y="88" font-size="7.2" fill="#262626" stroke="#262626" stroke-width="0.15" text-anchor="end">10</text>
<text x="88.2" y="73.1" font-size="7.2" fill="#262626" stroke="#262626" stroke-width="0.15" text-anchor="end">20</text>
<text x="88.2" y="142.9" font-size="7.2" fill="#262626" stroke="#262626" stroke-width="0.15" text-anchor="end">0</text>
<text x="88.2" y="127.95" font-size="7.2" fill="#262626" stroke="#262626" stroke-width="0.15" text-anchor="end">10</text>
<text x="88.2" y="113" font-size="7.2" fill="#262626" stroke="#262626" stroke-width="0.15" text-anchor="end">20</text>
<text x="88.2" y="172.6" font-size="7.2" fill="#262626" stroke="#262626" stroke-width="0.15" text-anchor="end">50</text>
<text x="88.2" y="153.1" font-size="7.2" fill="#262626" stroke="#262626" stroke-width="0.15" text-anchor="end">100</text>
<text x="88.2" y="222.9" font-size="7.2" fill="#262626" stroke="#262626" stroke-width="0.15" text-anchor="end">0</text>
<text x="88.2" y="213" font-size="7.2" fill="#262626" stroke="#262626" stroke-width="0.15" text-anchor="end">20</text>
<text x="88.2" y="203.1" font-size="7.2" fill="#262626" stroke="#262626" stroke-width="0.15" text-anchor="end">40</text>
<text x="88.2" y="193.2" font-size="7.2" fill="#262626" stroke="#262626" stroke-width="0.15" text-anchor="end">60</text>
<text x="88.2" y="262.7" font-size="7.2" fill="#262626" stroke="#262626" stroke-width="0.15" text-anchor="end">0</text>
<text x="88.2" y="247.85" font-size="7.2" fill="#262626" stroke="#262626" stroke-width="0.15" text-anchor="end">10</text>
<text x="88.2" y="233" font-size="7.2" fill="#262626" stroke="#262626" stroke-width="0.15" text-anchor="end">20</text>
<text x="88.2" y="302.7" font-size="7.2" fill="#262626" stroke="#262626" stroke-width="0.15" text-anchor="end">0</text>
<text x="88.2" y="287.85" font-size="7.2" fill="#262626" stroke="#262626" stroke-width="0.15" text-anchor="end">200</text>
<text x="88.2" y="273" font-size="7.2" fill="#262626" stroke="#262626" stroke-width="0.15" text-anchor="end">400</text>
<text x="129" y="321.6" font-size="8.25" fill="#262626" stroke="#262626" stroke-width="0.15" text-anchor="middle">Gr. Temp.</text>
<text x="203.4" y="323.7" font-size="8.25" fill="#262626" stroke="#262626" stroke-width="0.15" text-anchor="middle">Precip.</text>
<text x="279.7" y="323.7" font-size="8.25" fill="#262626" stroke="#262626" stroke-width="0.15" text-anchor="middle">Abs. Moist.</text>
<text x="355.2" y="323.7" font-size="8.25" fill="#262626" stroke="#262626" stroke-width="0.15" text-anchor="middle">Rel. Moist.</text>
<text x="430.9" y="323.7" font-size="8.25" fill="#262626" stroke="#262626" stroke-width="0.15" text-anchor="middle">Sun Min.</text>
<text x="506.8" y="323.7" font-size="8.25" fill="#262626" stroke="#262626" stroke-width="0.15" text-anchor="middle">Wind Sp.</text>
<text x="582.6" y="323.7" font-size="8.25" fill="#262626" stroke="#262626" stroke-width="0.15" text-anchor="middle">Wind Dir.</text>
<text x="74.6" y="85.5" font-size="8.3" fill="#262626" stroke="#262626" stroke-width="0.15" text-anchor="middle" transform="rotate(-90 74.6 85.5)">Precip.</text>
<text x="74.6" y="127" font-size="8.3" fill="#262626" stroke="#262626" stroke-width="0.15" text-anchor="middle" transform="rotate(-90 74.6 127)">Abs. Moist.</text>
<text x="74.6" y="167.8" font-size="8.3" fill="#262626" stroke="#262626" stroke-width="0.15" text-anchor="middle" transform="rotate(-90 74.6 167.8)">Rel. Moist.</text>
<text x="74.6" y="205" font-size="8.3" fill="#262626" stroke="#262626" stroke-width="0.15" text-anchor="middle" transform="rotate(-90 74.6 205)">Sun Min.</text>
<text x="74.6" y="245" font-size="8.3" fill="#262626" stroke="#262626" stroke-width="0.15" text-anchor="middle" transform="rotate(-90 74.6 245)">Wind Sp.</text>
<text x="74.6" y="284" font-size="8.3" fill="#262626" stroke="#262626" stroke-width="0.15" text-anchor="middle" transform="rotate(-90 74.6 284)">Wind Dir.</text>
<text x="168.5" y="33.9" font-size="8.7" fill="#1a1a1a" stroke="#1a1a1a" stroke-width="0.15" text-anchor="start">Trimodality:</text>
<text x="168.5" y="44.4" font-size="8.7" fill="#1a1a1a" stroke="#1a1a1a" stroke-width="0.15" text-anchor="start">median lower</text>
<text x="168.5" y="54.9" font-size="8.7" fill="#1a1a1a" stroke="#1a1a1a" stroke-width="0.15" text-anchor="start">than mean</text>
<text x="224.5" y="39.5" font-size="8.7" fill="#1a1a1a" stroke="#1a1a1a" stroke-width="0.15" text-anchor="start">Frequent recordings</text>
<text x="224.5" y="49.95" font-size="8.7" fill="#1a1a1a" stroke="#1a1a1a" stroke-width="0.15" text-anchor="start">of min.: almost</text>
<text x="224.5" y="60.4" font-size="8.7" fill="#1a1a1a" stroke="#1a1a1a" stroke-width="0.15" text-anchor="start">uniform</text>
<text x="243" y="79.9" font-size="8.7" fill="#1a1a1a" stroke="#1a1a1a" stroke-width="0.15" text-anchor="start">Skewness to the</text>
<text x="243" y="90.3" font-size="8.7" fill="#1a1a1a" stroke="#1a1a1a" stroke-width="0.15" text-anchor="start">right: median</text>
<text x="243" y="100.7" font-size="8.7" fill="#1a1a1a" stroke="#1a1a1a" stroke-width="0.15" text-anchor="start">lower than mean</text>
<text x="319.3" y="113.3" font-size="8.7" fill="#1a1a1a" stroke="#1a1a1a" stroke-width="0.15" text-anchor="start">Skewness to</text>
<text x="319.3" y="123.6" font-size="8.7" fill="#1a1a1a" stroke="#1a1a1a" stroke-width="0.15" text-anchor="start">the left: median</text>
<text x="319.3" y="133.9" font-size="8.7" fill="#1a1a1a" stroke="#1a1a1a" stroke-width="0.15" text-anchor="start">higher than</text>
<text x="319.3" y="144.2" font-size="8.7" fill="#1a1a1a" stroke="#1a1a1a" stroke-width="0.15" text-anchor="start">mean</text>
<text x="397" y="160.3" font-size="8.7" fill="#1a1a1a" stroke="#1a1a1a" stroke-width="0.15" text-anchor="start">Bimodality: frequent</text>
<text x="397" y="170.75" font-size="8.7" fill="#1a1a1a" stroke="#1a1a1a" stroke-width="0.15" text-anchor="start">recordings of min. or</text>
<text x="397" y="181.2" font-size="8.7" fill="#1a1a1a" stroke="#1a1a1a" stroke-width="0.15" text-anchor="start">max., almost binary</text>
<text x="471.5" y="196.9" font-size="8.7" fill="#1a1a1a" stroke="#1a1a1a" stroke-width="0.15" text-anchor="start">Skewness to</text>
<text x="471.5" y="207" font-size="8.7" fill="#1a1a1a" stroke="#1a1a1a" stroke-width="0.15" text-anchor="start">the right: median</text>
<text x="471.5" y="217.1" font-size="8.7" fill="#1a1a1a" stroke="#1a1a1a" stroke-width="0.15" text-anchor="start">higher than mean</text>
<text x="545.9" y="240.9" font-size="8.7" fill="#1a1a1a" stroke="#1a1a1a" stroke-width="0.15" text-anchor="start">Trimodality:</text>
<text x="545.9" y="251.1" font-size="8.7" fill="#1a1a1a" stroke="#1a1a1a" stroke-width="0.15" text-anchor="start">median higher than</text>
<text x="545.9" y="261.3" font-size="8.7" fill="#1a1a1a" stroke="#1a1a1a" stroke-width="0.15" text-anchor="start">mean</text>
<text x="387.7" y="31.3" font-size="8.7" fill="#1a1a1a" text-anchor="start" font-weight="bold">Data of weather station 1:</text>
<text x="387.7" y="42.8" font-size="8.7" fill="#1a1a1a" stroke="#1a1a1a" stroke-width="0.15" text-anchor="start">Units:</text>
<text x="387.7" y="53.22" font-size="8.7" fill="#1a1a1a" stroke="#1a1a1a" stroke-width="0.15" text-anchor="start">Gr. Temp in °C</text>
<text x="387.7" y="63.64" font-size="8.7" fill="#1a1a1a" stroke="#1a1a1a" stroke-width="0.15" text-anchor="start">Precip. in mm</text>
<text x="387.7" y="74.06" font-size="8.7" fill="#1a1a1a" stroke="#1a1a1a" stroke-width="0.15" text-anchor="start">Abs. Moist. in g/m³</text>
<text x="387.7" y="84.48" font-size="8.7" fill="#1a1a1a" stroke="#1a1a1a" stroke-width="0.15" text-anchor="start">Rel. Moist. in %</text>
<text x="387.7" y="94.9" font-size="8.7" fill="#1a1a1a" stroke="#1a1a1a" stroke-width="0.15" text-anchor="start">Sun Min. in min</text>
<text x="387.7" y="105.32" font-size="8.7" fill="#1a1a1a" stroke="#1a1a1a" stroke-width="0.15" text-anchor="start">Wind Sp. in m/s</text>
<text x="387.7" y="115.74" font-size="8.7" fill="#1a1a1a" stroke="#1a1a1a" stroke-width="0.15" text-anchor="start">Wind Dir. in °</text>
<text x="473.7" y="43.5" font-size="8.7" fill="#1a1a1a" stroke="#1a1a1a" stroke-width="0.15" text-anchor="start">Histograms:</text>
<text x="473.7" y="53.92" font-size="8.7" fill="#1a1a1a" stroke="#1a1a1a" stroke-width="0.15" text-anchor="start">Ordinates</text>
<text x="473.7" y="64.34" font-size="8.7" fill="#1a1a1a" stroke="#1a1a1a" stroke-width="0.15" text-anchor="start">discern</text>
<text x="473.7" y="74.76" font-size="8.7" fill="#1a1a1a" stroke="#1a1a1a" stroke-width="0.15" text-anchor="start">probability of</text>
<text x="473.7" y="85.18" font-size="8.7" fill="#1a1a1a" stroke="#1a1a1a" stroke-width="0.15" text-anchor="start">value ranges;</text>
<text x="473.7" y="95.6" font-size="8.7" fill="#1a1a1a" stroke="#1a1a1a" stroke-width="0.15" text-anchor="start">indicative of</text>
<text x="473.7" y="106.02" font-size="8.7" fill="#1a1a1a" stroke="#1a1a1a" stroke-width="0.15" text-anchor="start">frequency of</text>
<text x="473.7" y="116.44" font-size="8.7" fill="#1a1a1a" stroke="#1a1a1a" stroke-width="0.15" text-anchor="start">occurences</text>
<text x="540.8" y="42.5" font-size="8.7" fill="#1a1a1a" stroke="#1a1a1a" stroke-width="0.15" text-anchor="start">Scatter plots:</text>
<text x="549" y="52.94" font-size="8.7" fill="#1a1a1a" stroke="#1a1a1a" stroke-width="0.15" text-anchor="start">Strong</text>
<text x="549" y="63.38" font-size="8.7" fill="#1a1a1a" stroke="#1a1a1a" stroke-width="0.15" text-anchor="start">interdependency:</text>
<text x="549" y="73.82" font-size="8.7" fill="#1a1a1a" stroke="#1a1a1a" stroke-width="0.15" text-anchor="start">Less suitable for</text>
<text x="549" y="84.26" font-size="8.7" fill="#1a1a1a" stroke="#1a1a1a" stroke-width="0.15" text-anchor="start">parallel application</text>
<text x="549" y="94.7" font-size="8.7" fill="#1a1a1a" stroke="#1a1a1a" stroke-width="0.15" text-anchor="start">Less pronounced</text>
<text x="549" y="105.14" font-size="8.7" fill="#1a1a1a" stroke="#1a1a1a" stroke-width="0.15" text-anchor="start">interdependency or</text>
<text x="549" y="115.58" font-size="8.7" fill="#1a1a1a" stroke="#1a1a1a" stroke-width="0.15" text-anchor="start">visiualization</text>
<text x="549" y="126.02" font-size="8.7" fill="#1a1a1a" stroke="#1a1a1a" stroke-width="0.15" text-anchor="start">effected by</text>
<text x="549" y="136.46" font-size="8.7" fill="#1a1a1a" stroke="#1a1a1a" stroke-width="0.15" text-anchor="start">skewness:</text>
<text x="549" y="146.9" font-size="8.7" fill="#1a1a1a" stroke="#1a1a1a" stroke-width="0.15" text-anchor="start">Further</text>
<text x="549" y="157.34" font-size="8.7" fill="#1a1a1a" stroke="#1a1a1a" stroke-width="0.15" text-anchor="start">investigation</text>
<text x="549" y="167.78" font-size="8.7" fill="#1a1a1a" stroke="#1a1a1a" stroke-width="0.15" text-anchor="start">necessary</text>
<text x="549" y="178.22" font-size="8.7" fill="#1a1a1a" stroke="#1a1a1a" stroke-width="0.15" text-anchor="start">Low visible</text>
<text x="549" y="188.66" font-size="8.7" fill="#1a1a1a" stroke="#1a1a1a" stroke-width="0.15" text-anchor="start">interdependency:</text>
<text x="549" y="199.1" font-size="8.7" fill="#1a1a1a" stroke="#1a1a1a" stroke-width="0.15" text-anchor="start">Suitable for</text>
<text x="549" y="209.54" font-size="8.7" fill="#1a1a1a" stroke="#1a1a1a" stroke-width="0.15" text-anchor="start">parallel application</text>
<circle cx="543.7" cy="49.64" r="1.95" fill="#0c3d66"/>
<circle cx="543.7" cy="91.4" r="1.95" fill="#cccccc"/>
<circle cx="543.7" cy="174.92" r="1.95" fill="#d8691f"/>
<text x="92.8" y="113.3" font-size="6.75" fill="#000" stroke="#000" stroke-width="0.15" text-anchor="start">Linear correlation</text>
<path d="M167 45L141.83 49.49" stroke="#1a1a1a" stroke-width="0.55"/>
<path d="M137.3 50.3L141.49 47.62L142.16 51.36Z" fill="#111"/>
<path d="M220.6 61L181.24 77.61" stroke="#1a1a1a" stroke-width="0.55"/>
<path d="M177 79.4L180.5 75.86L181.98 79.36Z" fill="#111"/>
<path d="M282.3 102.2L277.97 109.8" stroke="#1a1a1a" stroke-width="0.55"/>
<path d="M275.7 113.8L276.32 108.86L279.63 110.74Z" fill="#111"/>
<path d="M361.2 140L367 146.72" stroke="#1a1a1a" stroke-width="0.55"/>
<path d="M370 150.2L365.56 147.96L368.43 145.48Z" fill="#111"/>
<path d="M417.5 181.5L409.97 197.44" stroke="#1a1a1a" stroke-width="0.55"/>
<path d="M408 201.6L408.25 196.63L411.68 198.25Z" fill="#111"/>
<path d="M441.6 181.5L454.19 209.02" stroke="#1a1a1a" stroke-width="0.55"/>
<path d="M456.1 213.2L452.46 209.81L455.91 208.23Z" fill="#111"/>
<path d="M496.4 222.2L493.93 227.53" stroke="#1a1a1a" stroke-width="0.55"/>
<path d="M492 231.7L492.21 226.73L495.66 228.32Z" fill="#111"/>
<path d="M571.7 265.1L576.86 274.93" stroke="#1a1a1a" stroke-width="0.55"/>
<path d="M579 279L575.18 275.81L578.54 274.04Z" fill="#111"/>
<path d="M118.3 115.6L120.24 119.06" stroke="#1a1a1a" stroke-width="0.55"/>
<path d="M122 122.2L118.93 119.79L121.55 118.33Z" fill="#111"/>
</svg>
</body></html>
